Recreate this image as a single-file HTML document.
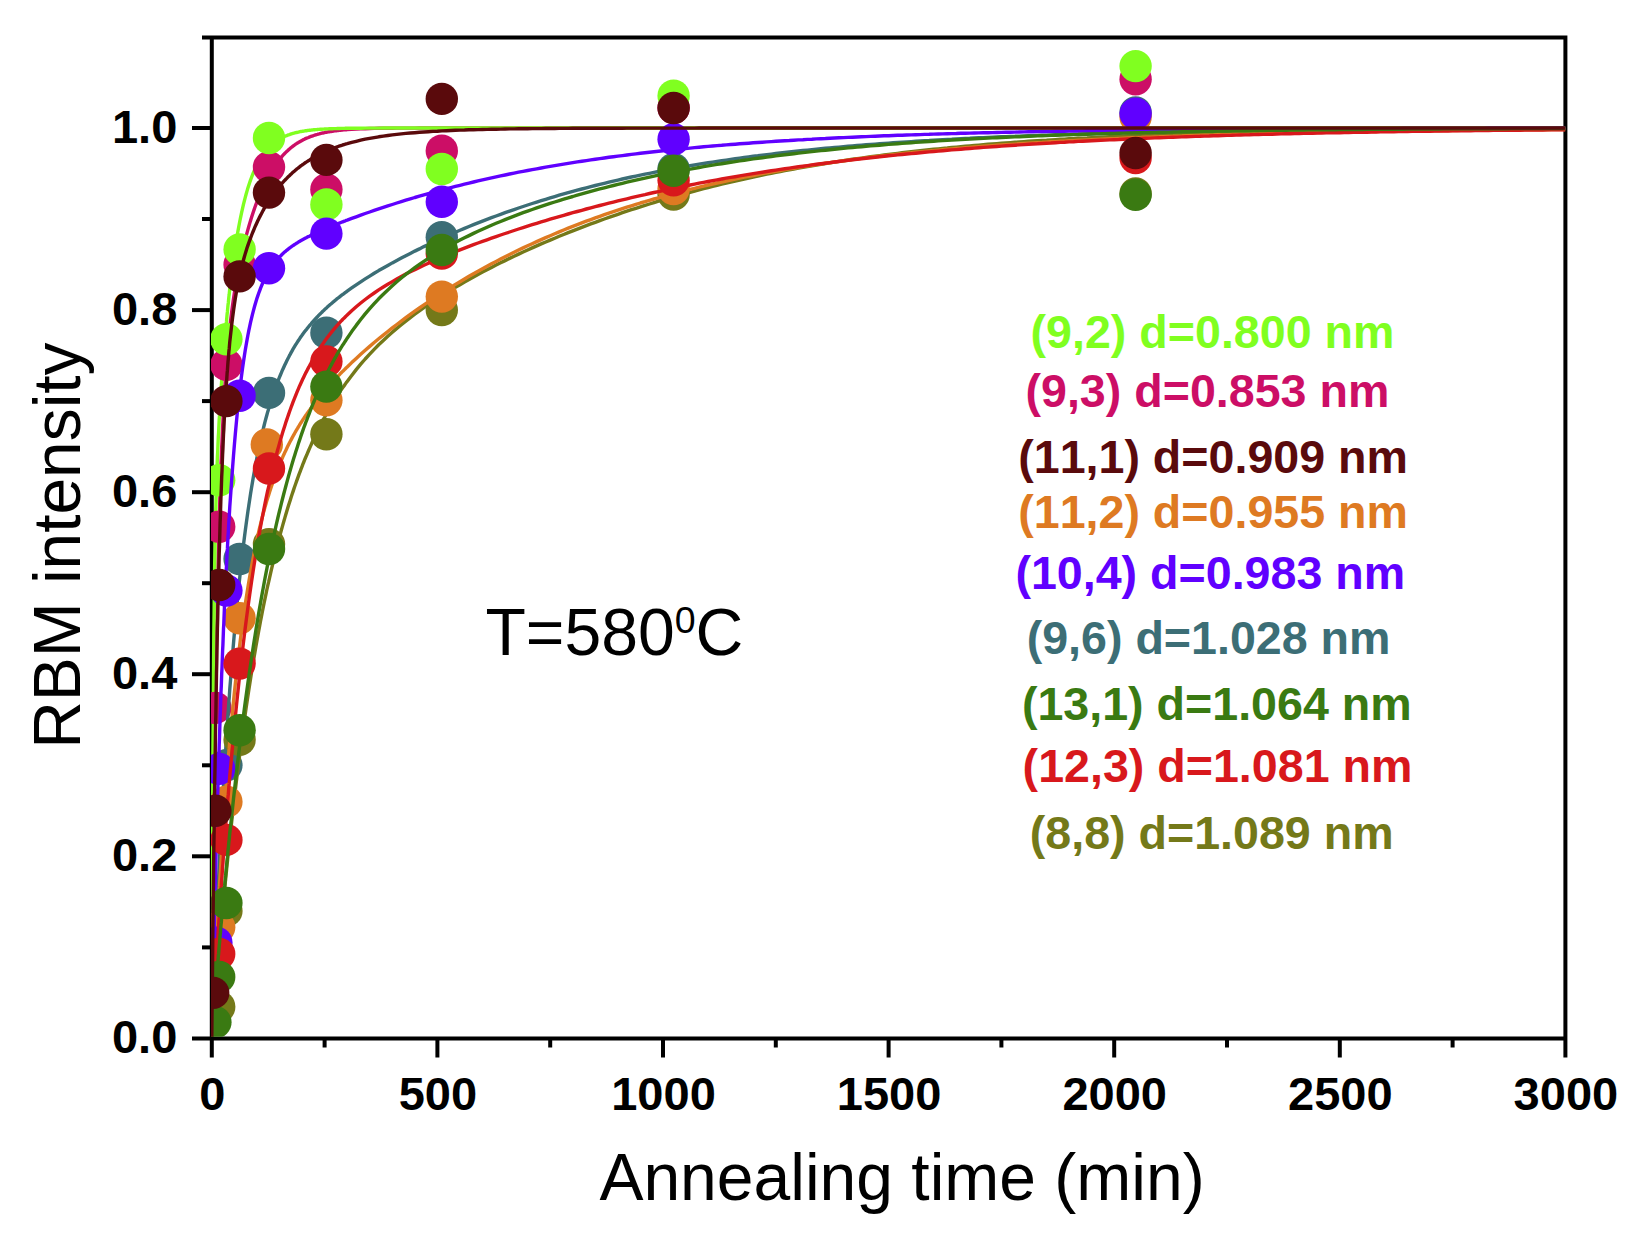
<!DOCTYPE html>
<html lang="en"><head><meta charset="utf-8"><title>RBM intensity vs annealing time</title>
<style>html,body{margin:0;padding:0;background:#fff}svg{display:block}text{font-kerning:none}</style></head>
<body>
<svg width="1652" height="1244" viewBox="0 0 1652 1244">
<defs><clipPath id="c"><rect x="211" y="37.6" width="1354.4" height="999.2"/></clipPath></defs>
<rect width="1652" height="1244" fill="#fff"/>
<g stroke="#000" stroke-width="4.0" fill="none">
<path d="M202.0 37.6 H1565.4 V1057.5"/>
<path d="M211.8 37.6 V1057.5"/>
<path d="M192.0 1038.4 H1565.4"/>
<path d="M192 856.3 H211.8"/>
<path d="M192 674.2 H211.8"/>
<path d="M192 492.2 H211.8"/>
<path d="M192 310.1 H211.8"/>
<path d="M192 128.0 H211.8"/>
<path d="M202 947.4 H211.8"/>
<path d="M202 765.3 H211.8"/>
<path d="M202 583.2 H211.8"/>
<path d="M202 401.1 H211.8"/>
<path d="M202 219.0 H211.8"/>
<path d="M437.4 1038.4 V1057.5"/>
<path d="M663.0 1038.4 V1057.5"/>
<path d="M888.6 1038.4 V1057.5"/>
<path d="M1114.2 1038.4 V1057.5"/>
<path d="M1339.8 1038.4 V1057.5"/>
<path d="M324.6 1038.4 V1047.5"/>
<path d="M550.2 1038.4 V1047.5"/>
<path d="M775.8 1038.4 V1047.5"/>
<path d="M1001.4 1038.4 V1047.5"/>
<path d="M1227.0 1038.4 V1047.5"/>
<path d="M1452.6 1038.4 V1047.5"/>
</g>
<g clip-path="url(#c)">
<path d="M211.8 1038.4 L212.0 1011.2 L212.3 984.9 L212.5 959.5 L212.7 935.2 L212.9 911.8 L213.2 889.3 L213.4 867.6 L213.6 846.8 L213.8 826.8 L214.1 807.5 L214.3 789.0 L214.5 771.3 L214.7 754.1 L215.0 737.7 L215.2 721.9 L215.4 706.6 L215.6 692.0 L215.9 677.9 L216.1 664.3 L216.3 651.3 L216.5 638.7 L216.8 626.6 L217.0 614.9 L217.2 603.7 L217.4 592.9 L217.7 582.5 L217.9 572.5 L218.1 562.8 L218.3 553.5 L218.6 544.5 L218.8 535.8 L219.0 527.5 L219.2 519.4 L219.5 511.6 L219.7 504.1 L219.9 496.9 L220.1 489.9 L220.4 483.1 L220.6 476.6 L220.8 470.3 L221.0 464.2 L221.3 458.3 L221.5 452.6 L221.7 447.1 L222.0 441.8 L222.2 436.6 L222.4 431.6 L222.6 426.8 L222.9 422.1 L223.1 417.5 L223.3 413.1 L223.5 408.9 L223.8 404.7 L224.0 400.7 L224.2 396.8 L224.4 393.0 L224.7 389.4 L224.9 385.8 L225.1 382.3 L225.3 378.9 L225.6 375.7 L225.8 372.5 L226.0 369.4 L226.2 366.3 L226.5 363.4 L226.7 360.5 L226.9 357.7 L227.1 355.0 L227.4 352.4 L227.6 349.8 L227.8 347.2 L228.0 344.8 L228.3 342.3 L228.5 340.0 L228.7 337.7 L228.9 335.4 L229.2 333.2 L229.4 331.1 L229.6 329.0 L229.8 326.9 L230.8 319.0 L231.7 311.8 L232.6 305.0 L233.5 298.7 L234.4 292.7 L235.3 287.1 L236.2 281.8 L237.1 276.8 L238.0 272.0 L238.9 267.4 L239.8 263.0 L240.7 258.7 L241.6 254.6 L242.5 250.7 L243.4 246.9 L244.3 243.2 L245.2 239.7 L246.1 236.2 L247.0 232.9 L247.9 229.6 L248.8 226.5 L249.7 223.4 L250.6 220.4 L251.5 217.6 L252.4 214.7 L253.3 212.0 L254.2 209.4 L255.1 206.8 L256.0 204.3 L256.9 201.8 L257.8 199.5 L258.7 197.2 L259.6 194.9 L260.5 192.8 L261.4 190.7 L262.3 188.6 L263.2 186.6 L264.1 184.7 L265.0 182.8 L265.9 181.0 L266.8 179.2 L267.7 177.5 L268.7 175.9 L269.6 174.2 L270.5 172.7 L271.4 171.2 L272.3 169.7 L273.2 168.3 L274.1 166.9 L275.0 165.5 L275.9 164.2 L276.8 163.0 L277.7 161.8 L278.6 160.6 L279.5 159.4 L280.4 158.3 L281.3 157.3 L282.2 156.2 L283.1 155.2 L284.0 154.2 L284.9 153.3 L285.8 152.4 L286.7 151.5 L287.6 150.7 L288.5 149.8 L289.4 149.1 L290.3 148.3 L291.2 147.5 L292.1 146.8 L293.0 146.1 L293.9 145.5 L294.8 144.8 L295.7 144.2 L296.6 143.6 L297.5 143.0 L298.4 142.5 L299.3 141.9 L300.2 141.4 L301.1 140.9 L302.0 140.4 L302.9 139.9 L303.8 139.5 L304.7 139.1 L305.6 138.6 L306.6 138.2 L307.5 137.8 L308.4 137.5 L309.3 137.1 L310.2 136.7 L311.1 136.4 L312.0 136.1 L312.9 135.8 L313.8 135.5 L314.7 135.2 L315.6 134.9 L316.5 134.6 L317.4 134.4 L318.3 134.1 L319.2 133.9 L320.1 133.6 L321.0 133.4 L321.9 133.2 L322.8 133.0 L323.7 132.8 L324.6 132.6 L325.5 132.4 L326.4 132.2 L327.3 132.1 L328.2 131.9 L329.1 131.8 L330.0 131.6 L330.9 131.5 L331.8 131.3 L332.7 131.2 L333.6 131.1 L334.5 130.9 L335.4 130.8 L336.3 130.7 L337.2 130.6 L338.1 130.5 L339.0 130.4 L339.9 130.3 L340.8 130.2 L341.7 130.1 L342.6 130.0 L343.6 129.9 L344.5 129.8 L345.4 129.8 L346.3 129.7 L347.2 129.6 L351.7 129.3 L356.2 129.1 L360.7 128.8 L365.2 128.7 L369.7 128.5 L374.2 128.4 L378.7 128.3 L383.3 128.3 L387.8 128.2 L392.3 128.2 L396.8 128.1 L401.3 128.1 L405.8 128.1 L410.3 128.1 L414.8 128.1 L419.4 128.0 L423.9 128.0 L428.4 128.0 L432.9 128.0 L437.4 128.0 L441.9 128.0 L446.4 128.0 L450.9 128.0 L455.4 128.0 L460.0 128.0 L464.5 128.0 L469.0 128.0 L473.5 128.0 L478.0 128.0 L482.5 128.0 L487.0 128.0 L491.5 128.0 L496.1 128.0 L500.6 128.0 L505.1 128.0 L509.6 128.0 L514.1 128.0 L518.6 128.0 L523.1 128.0 L527.6 128.0 L532.2 128.0 L536.7 128.0 L541.2 128.0 L545.7 128.0 L550.2 128.0 L554.7 128.0 L559.2 128.0 L563.7 128.0 L568.2 128.0 L572.8 128.0 L577.3 128.0 L581.8 128.0 L586.3 128.0 L590.8 128.0 L595.3 128.0 L599.8 128.0 L604.3 128.0 L608.9 128.0 L613.4 128.0 L617.9 128.0 L622.4 128.0 L626.9 128.0 L631.4 128.0 L635.9 128.0 L640.4 128.0 L645.0 128.0 L649.5 128.0 L654.0 128.0 L658.5 128.0 L663.0 128.0 L667.5 128.0 L672.0 128.0 L676.5 128.0 L681.0 128.0 L685.6 128.0 L690.1 128.0 L694.6 128.0 L699.1 128.0 L703.6 128.0 L708.1 128.0 L712.6 128.0 L717.1 128.0 L721.7 128.0 L726.2 128.0 L730.7 128.0 L735.2 128.0 L739.7 128.0 L744.2 128.0 L748.7 128.0 L753.2 128.0 L757.8 128.0 L762.3 128.0 L766.8 128.0 L771.3 128.0 L775.8 128.0 L780.3 128.0 L784.8 128.0 L789.3 128.0 L793.8 128.0 L798.4 128.0 L802.9 128.0 L807.4 128.0 L811.9 128.0 L816.4 128.0 L820.9 128.0 L825.4 128.0 L829.9 128.0 L834.5 128.0 L839.0 128.0 L843.5 128.0 L848.0 128.0 L852.5 128.0 L857.0 128.0 L861.5 128.0 L866.0 128.0 L870.6 128.0 L875.1 128.0 L879.6 128.0 L884.1 128.0 L888.6 128.0 L893.1 128.0 L897.6 128.0 L902.1 128.0 L906.6 128.0 L911.2 128.0 L915.7 128.0 L920.2 128.0 L924.7 128.0 L929.2 128.0 L933.7 128.0 L938.2 128.0 L942.7 128.0 L947.3 128.0 L951.8 128.0 L956.3 128.0 L960.8 128.0 L965.3 128.0 L969.8 128.0 L974.3 128.0 L978.8 128.0 L983.4 128.0 L987.9 128.0 L992.4 128.0 L996.9 128.0 L1001.4 128.0 L1005.9 128.0 L1010.4 128.0 L1014.9 128.0 L1019.4 128.0 L1024.0 128.0 L1028.5 128.0 L1033.0 128.0 L1037.5 128.0 L1042.0 128.0 L1046.5 128.0 L1051.0 128.0 L1055.5 128.0 L1060.1 128.0 L1064.6 128.0 L1069.1 128.0 L1073.6 128.0 L1078.1 128.0 L1082.6 128.0 L1087.1 128.0 L1091.6 128.0 L1096.2 128.0 L1100.7 128.0 L1105.2 128.0 L1109.7 128.0 L1114.2 128.0 L1118.7 128.0 L1123.2 128.0 L1127.7 128.0 L1132.2 128.0 L1136.8 128.0 L1141.3 128.0 L1145.8 128.0 L1150.3 128.0 L1154.8 128.0 L1159.3 128.0 L1163.8 128.0 L1168.3 128.0 L1172.9 128.0 L1177.4 128.0 L1181.9 128.0 L1186.4 128.0 L1190.9 128.0 L1195.4 128.0 L1199.9 128.0 L1204.4 128.0 L1209.0 128.0 L1213.5 128.0 L1218.0 128.0 L1222.5 128.0 L1227.0 128.0 L1231.5 128.0 L1236.0 128.0 L1240.5 128.0 L1245.0 128.0 L1249.6 128.0 L1254.1 128.0 L1258.6 128.0 L1263.1 128.0 L1267.6 128.0 L1272.1 128.0 L1276.6 128.0 L1281.1 128.0 L1285.7 128.0 L1290.2 128.0 L1294.7 128.0 L1299.2 128.0 L1303.7 128.0 L1308.2 128.0 L1312.7 128.0 L1317.2 128.0 L1321.8 128.0 L1326.3 128.0 L1330.8 128.0 L1335.3 128.0 L1339.8 128.0 L1344.3 128.0 L1348.8 128.0 L1353.3 128.0 L1357.8 128.0 L1362.4 128.0 L1366.9 128.0 L1371.4 128.0 L1375.9 128.0 L1380.4 128.0 L1384.9 128.0 L1389.4 128.0 L1393.9 128.0 L1398.5 128.0 L1403.0 128.0 L1407.5 128.0 L1412.0 128.0 L1416.5 128.0 L1421.0 128.0 L1425.5 128.0 L1430.0 128.0 L1434.6 128.0 L1439.1 128.0 L1443.6 128.0 L1448.1 128.0 L1452.6 128.0 L1457.1 128.0 L1461.6 128.0 L1466.1 128.0 L1470.6 128.0 L1475.2 128.0 L1479.7 128.0 L1484.2 128.0 L1488.7 128.0 L1493.2 128.0 L1497.7 128.0 L1502.2 128.0 L1506.7 128.0 L1511.3 128.0 L1515.8 128.0 L1520.3 128.0 L1524.8 128.0 L1529.3 128.0 L1533.8 128.0 L1538.3 128.0 L1542.8 128.0 L1547.4 128.0 L1551.9 128.0 L1556.4 128.0 L1560.9 128.0 L1565.4 128.0" fill="none" stroke="#cc0e66" stroke-width="3.4" stroke-linejoin="round"/>
<path d="M211.8 1038.4 L212.0 964.7 L212.3 901.1 L212.5 845.9 L212.7 798.0 L212.9 756.4 L213.2 720.0 L213.4 688.2 L213.6 660.3 L213.8 635.8 L214.1 614.2 L214.3 595.0 L214.5 577.9 L214.7 562.7 L215.0 549.0 L215.2 536.7 L215.4 525.5 L215.6 515.4 L215.9 506.1 L216.1 497.6 L216.3 489.7 L216.5 482.4 L216.8 475.5 L217.0 469.1 L217.2 463.1 L217.4 457.4 L217.7 452.0 L217.9 446.8 L218.1 441.9 L218.3 437.1 L218.6 432.5 L218.8 428.1 L219.0 423.9 L219.2 419.7 L219.5 415.7 L219.7 411.8 L219.9 407.9 L220.1 404.2 L220.4 400.5 L220.6 396.9 L220.8 393.4 L221.0 390.0 L221.3 386.6 L221.5 383.3 L221.7 380.0 L222.0 376.8 L222.2 373.6 L222.4 370.5 L222.6 367.4 L222.9 364.4 L223.1 361.4 L223.3 358.5 L223.5 355.6 L223.8 352.8 L224.0 349.9 L224.2 347.2 L224.4 344.4 L224.7 341.7 L224.9 339.1 L225.1 336.4 L225.3 333.8 L225.6 331.3 L225.8 328.8 L226.0 326.3 L226.2 323.8 L226.5 321.4 L226.7 319.0 L226.9 316.6 L227.1 314.3 L227.4 312.0 L227.6 309.7 L227.8 307.4 L228.0 305.2 L228.3 303.0 L228.5 300.9 L228.7 298.7 L228.9 296.6 L229.2 294.6 L229.4 292.5 L229.6 290.5 L229.8 288.5 L230.8 280.7 L231.7 273.3 L232.6 266.3 L233.5 259.7 L234.4 253.3 L235.3 247.3 L236.2 241.6 L237.1 236.1 L238.0 230.9 L238.9 226.0 L239.8 221.3 L240.7 216.8 L241.6 212.6 L242.5 208.6 L243.4 204.7 L244.3 201.1 L245.2 197.6 L246.1 194.3 L247.0 191.1 L247.9 188.1 L248.8 185.2 L249.7 182.5 L250.6 179.9 L251.5 177.5 L252.4 175.1 L253.3 172.9 L254.2 170.8 L255.1 168.7 L256.0 166.8 L256.9 165.0 L257.8 163.2 L258.7 161.6 L259.6 160.0 L260.5 158.5 L261.4 157.0 L262.3 155.7 L263.2 154.4 L264.1 153.1 L265.0 151.9 L265.9 150.8 L266.8 149.7 L267.7 148.7 L268.7 147.7 L269.6 146.8 L270.5 145.9 L271.4 145.1 L272.3 144.3 L273.2 143.5 L274.1 142.8 L275.0 142.1 L275.9 141.4 L276.8 140.8 L277.7 140.2 L278.6 139.6 L279.5 139.1 L280.4 138.6 L281.3 138.1 L282.2 137.6 L283.1 137.2 L284.0 136.7 L284.9 136.3 L285.8 135.9 L286.7 135.6 L287.6 135.2 L288.5 134.9 L289.4 134.6 L290.3 134.2 L291.2 134.0 L292.1 133.7 L293.0 133.4 L293.9 133.2 L294.8 132.9 L295.7 132.7 L296.6 132.5 L297.5 132.3 L298.4 132.1 L299.3 131.9 L300.2 131.7 L301.1 131.5 L302.0 131.4 L302.9 131.2 L303.8 131.1 L304.7 130.9 L305.6 130.8 L306.6 130.7 L307.5 130.5 L308.4 130.4 L309.3 130.3 L310.2 130.2 L311.1 130.1 L312.0 130.0 L312.9 129.9 L313.8 129.8 L314.7 129.7 L315.6 129.6 L316.5 129.6 L317.4 129.5 L318.3 129.4 L319.2 129.4 L320.1 129.3 L321.0 129.2 L321.9 129.2 L322.8 129.1 L323.7 129.1 L324.6 129.0 L325.5 129.0 L326.4 128.9 L327.3 128.9 L328.2 128.9 L329.1 128.8 L330.0 128.8 L330.9 128.7 L331.8 128.7 L332.7 128.7 L333.6 128.6 L334.5 128.6 L335.4 128.6 L336.3 128.6 L337.2 128.5 L338.1 128.5 L339.0 128.5 L339.9 128.5 L340.8 128.4 L341.7 128.4 L342.6 128.4 L343.6 128.4 L344.5 128.4 L345.4 128.3 L346.3 128.3 L347.2 128.3 L351.7 128.2 L356.2 128.2 L360.7 128.2 L365.2 128.1 L369.7 128.1 L374.2 128.1 L378.7 128.1 L383.3 128.0 L387.8 128.0 L392.3 128.0 L396.8 128.0 L401.3 128.0 L405.8 128.0 L410.3 128.0 L414.8 128.0 L419.4 128.0 L423.9 128.0 L428.4 128.0 L432.9 128.0 L437.4 128.0 L441.9 128.0 L446.4 128.0 L450.9 128.0 L455.4 128.0 L460.0 128.0 L464.5 128.0 L469.0 128.0 L473.5 128.0 L478.0 128.0 L482.5 128.0 L487.0 128.0 L491.5 128.0 L496.1 128.0 L500.6 128.0 L505.1 128.0 L509.6 128.0 L514.1 128.0 L518.6 128.0 L523.1 128.0 L527.6 128.0 L532.2 128.0 L536.7 128.0 L541.2 128.0 L545.7 128.0 L550.2 128.0 L554.7 128.0 L559.2 128.0 L563.7 128.0 L568.2 128.0 L572.8 128.0 L577.3 128.0 L581.8 128.0 L586.3 128.0 L590.8 128.0 L595.3 128.0 L599.8 128.0 L604.3 128.0 L608.9 128.0 L613.4 128.0 L617.9 128.0 L622.4 128.0 L626.9 128.0 L631.4 128.0 L635.9 128.0 L640.4 128.0 L645.0 128.0 L649.5 128.0 L654.0 128.0 L658.5 128.0 L663.0 128.0 L667.5 128.0 L672.0 128.0 L676.5 128.0 L681.0 128.0 L685.6 128.0 L690.1 128.0 L694.6 128.0 L699.1 128.0 L703.6 128.0 L708.1 128.0 L712.6 128.0 L717.1 128.0 L721.7 128.0 L726.2 128.0 L730.7 128.0 L735.2 128.0 L739.7 128.0 L744.2 128.0 L748.7 128.0 L753.2 128.0 L757.8 128.0 L762.3 128.0 L766.8 128.0 L771.3 128.0 L775.8 128.0 L780.3 128.0 L784.8 128.0 L789.3 128.0 L793.8 128.0 L798.4 128.0 L802.9 128.0 L807.4 128.0 L811.9 128.0 L816.4 128.0 L820.9 128.0 L825.4 128.0 L829.9 128.0 L834.5 128.0 L839.0 128.0 L843.5 128.0 L848.0 128.0 L852.5 128.0 L857.0 128.0 L861.5 128.0 L866.0 128.0 L870.6 128.0 L875.1 128.0 L879.6 128.0 L884.1 128.0 L888.6 128.0 L893.1 128.0 L897.6 128.0 L902.1 128.0 L906.6 128.0 L911.2 128.0 L915.7 128.0 L920.2 128.0 L924.7 128.0 L929.2 128.0 L933.7 128.0 L938.2 128.0 L942.7 128.0 L947.3 128.0 L951.8 128.0 L956.3 128.0 L960.8 128.0 L965.3 128.0 L969.8 128.0 L974.3 128.0 L978.8 128.0 L983.4 128.0 L987.9 128.0 L992.4 128.0 L996.9 128.0 L1001.4 128.0 L1005.9 128.0 L1010.4 128.0 L1014.9 128.0 L1019.4 128.0 L1024.0 128.0 L1028.5 128.0 L1033.0 128.0 L1037.5 128.0 L1042.0 128.0 L1046.5 128.0 L1051.0 128.0 L1055.5 128.0 L1060.1 128.0 L1064.6 128.0 L1069.1 128.0 L1073.6 128.0 L1078.1 128.0 L1082.6 128.0 L1087.1 128.0 L1091.6 128.0 L1096.2 128.0 L1100.7 128.0 L1105.2 128.0 L1109.7 128.0 L1114.2 128.0 L1118.7 128.0 L1123.2 128.0 L1127.7 128.0 L1132.2 128.0 L1136.8 128.0 L1141.3 128.0 L1145.8 128.0 L1150.3 128.0 L1154.8 128.0 L1159.3 128.0 L1163.8 128.0 L1168.3 128.0 L1172.9 128.0 L1177.4 128.0 L1181.9 128.0 L1186.4 128.0 L1190.9 128.0 L1195.4 128.0 L1199.9 128.0 L1204.4 128.0 L1209.0 128.0 L1213.5 128.0 L1218.0 128.0 L1222.5 128.0 L1227.0 128.0 L1231.5 128.0 L1236.0 128.0 L1240.5 128.0 L1245.0 128.0 L1249.6 128.0 L1254.1 128.0 L1258.6 128.0 L1263.1 128.0 L1267.6 128.0 L1272.1 128.0 L1276.6 128.0 L1281.1 128.0 L1285.7 128.0 L1290.2 128.0 L1294.7 128.0 L1299.2 128.0 L1303.7 128.0 L1308.2 128.0 L1312.7 128.0 L1317.2 128.0 L1321.8 128.0 L1326.3 128.0 L1330.8 128.0 L1335.3 128.0 L1339.8 128.0 L1344.3 128.0 L1348.8 128.0 L1353.3 128.0 L1357.8 128.0 L1362.4 128.0 L1366.9 128.0 L1371.4 128.0 L1375.9 128.0 L1380.4 128.0 L1384.9 128.0 L1389.4 128.0 L1393.9 128.0 L1398.5 128.0 L1403.0 128.0 L1407.5 128.0 L1412.0 128.0 L1416.5 128.0 L1421.0 128.0 L1425.5 128.0 L1430.0 128.0 L1434.6 128.0 L1439.1 128.0 L1443.6 128.0 L1448.1 128.0 L1452.6 128.0 L1457.1 128.0 L1461.6 128.0 L1466.1 128.0 L1470.6 128.0 L1475.2 128.0 L1479.7 128.0 L1484.2 128.0 L1488.7 128.0 L1493.2 128.0 L1497.7 128.0 L1502.2 128.0 L1506.7 128.0 L1511.3 128.0 L1515.8 128.0 L1520.3 128.0 L1524.8 128.0 L1529.3 128.0 L1533.8 128.0 L1538.3 128.0 L1542.8 128.0 L1547.4 128.0 L1551.9 128.0 L1556.4 128.0 L1560.9 128.0 L1565.4 128.0" fill="none" stroke="#80ff20" stroke-width="3.4" stroke-linejoin="round"/>
<g fill="#cc0e66" stroke="none">
<circle cx="215.4" cy="707.9" r="16.2"/>
<circle cx="219.2" cy="526.8" r="16.2"/>
<circle cx="226.4" cy="364.7" r="16.2"/>
<circle cx="239.6" cy="264.6" r="16.2"/>
<circle cx="269.0" cy="167.1" r="16.2"/>
<circle cx="326.4" cy="189.5" r="16.2"/>
<circle cx="441.8" cy="150.8" r="16.2"/>
<circle cx="673.6" cy="108.0" r="16.2"/>
<circle cx="1135.6" cy="79.3" r="16.2"/>
</g>
<g fill="#80ff20" stroke="none">
<circle cx="219.2" cy="480.3" r="16.2"/>
<circle cx="226.4" cy="339.2" r="16.2"/>
<circle cx="239.6" cy="249.5" r="16.2"/>
<circle cx="269.0" cy="138.0" r="16.2"/>
<circle cx="326.4" cy="204.5" r="16.2"/>
<circle cx="441.8" cy="169.0" r="16.2"/>
<circle cx="673.6" cy="95.7" r="16.2"/>
<circle cx="1135.6" cy="66.1" r="16.2"/>
</g>
<path d="M211.8 1038.4 L212.0 1032.4 L212.3 1026.5 L212.5 1020.6 L212.7 1014.7 L212.9 1008.9 L213.2 1003.1 L213.4 997.4 L213.6 991.8 L213.8 986.1 L214.1 980.6 L214.3 975.1 L214.5 969.6 L214.7 964.2 L215.0 958.8 L215.2 953.4 L215.4 948.2 L215.6 942.9 L215.9 937.7 L216.1 932.6 L216.3 927.4 L216.5 922.4 L216.8 917.4 L217.0 912.4 L217.2 907.4 L217.4 902.5 L217.7 897.7 L217.9 892.9 L218.1 888.1 L218.3 883.4 L218.6 878.7 L218.8 874.0 L219.0 869.4 L219.2 864.9 L219.5 860.3 L219.7 855.8 L219.9 851.4 L220.1 847.0 L220.4 842.6 L220.6 838.2 L220.8 833.9 L221.0 829.7 L221.3 825.5 L221.5 821.3 L221.7 817.1 L222.0 813.0 L222.2 808.9 L222.4 804.8 L222.6 800.8 L222.9 796.8 L223.1 792.9 L223.3 789.0 L223.5 785.1 L223.8 781.3 L224.0 777.4 L224.2 773.7 L224.4 769.9 L224.7 766.2 L224.9 762.5 L225.1 758.9 L225.3 755.2 L225.6 751.6 L225.8 748.1 L226.0 744.5 L226.2 741.0 L226.5 737.6 L226.7 734.1 L226.9 730.7 L227.1 727.3 L227.4 724.0 L227.6 720.7 L227.8 717.4 L228.0 714.1 L228.3 710.8 L228.5 707.6 L228.7 704.4 L228.9 701.3 L229.2 698.1 L229.4 695.0 L229.6 692.0 L229.8 688.9 L230.8 676.9 L231.7 665.4 L232.6 654.2 L233.5 643.4 L234.4 632.9 L235.3 622.8 L236.2 613.1 L237.1 603.6 L238.0 594.5 L238.9 585.6 L239.8 577.1 L240.7 568.8 L241.6 560.8 L242.5 553.1 L243.4 545.6 L244.3 538.3 L245.2 531.3 L246.1 524.5 L247.0 517.9 L247.9 511.6 L248.8 505.4 L249.7 499.4 L250.6 493.6 L251.5 488.0 L252.4 482.6 L253.3 477.3 L254.2 472.2 L255.1 467.3 L256.0 462.5 L256.9 457.9 L257.8 453.4 L258.7 449.0 L259.6 444.8 L260.5 440.7 L261.4 436.7 L262.3 432.8 L263.2 429.1 L264.1 425.5 L265.0 421.9 L265.9 418.5 L266.8 415.2 L267.7 411.9 L268.7 408.8 L269.6 405.7 L270.5 402.8 L271.4 399.9 L272.3 397.1 L273.2 394.3 L274.1 391.7 L275.0 389.1 L275.9 386.6 L276.8 384.1 L277.7 381.8 L278.6 379.4 L279.5 377.2 L280.4 375.0 L281.3 372.8 L282.2 370.7 L283.1 368.7 L284.0 366.7 L284.9 364.8 L285.8 362.9 L286.7 361.0 L287.6 359.2 L288.5 357.5 L289.4 355.7 L290.3 354.1 L291.2 352.4 L292.1 350.8 L293.0 349.2 L293.9 347.7 L294.8 346.2 L295.7 344.7 L296.6 343.3 L297.5 341.9 L298.4 340.5 L299.3 339.2 L300.2 337.8 L301.1 336.5 L302.0 335.3 L302.9 334.0 L303.8 332.8 L304.7 331.6 L305.6 330.4 L306.6 329.3 L307.5 328.1 L308.4 327.0 L309.3 325.9 L310.2 324.8 L311.1 323.8 L312.0 322.7 L312.9 321.7 L313.8 320.7 L314.7 319.7 L315.6 318.7 L316.5 317.7 L317.4 316.8 L318.3 315.8 L319.2 314.9 L320.1 314.0 L321.0 313.1 L321.9 312.2 L322.8 311.3 L323.7 310.5 L324.6 309.6 L325.5 308.8 L326.4 308.0 L327.3 307.1 L328.2 306.3 L329.1 305.5 L330.0 304.7 L330.9 304.0 L331.8 303.2 L332.7 302.4 L333.6 301.7 L334.5 300.9 L335.4 300.2 L336.3 299.4 L337.2 298.7 L338.1 298.0 L339.0 297.3 L339.9 296.6 L340.8 295.9 L341.7 295.2 L342.6 294.5 L343.6 293.8 L344.5 293.1 L345.4 292.5 L346.3 291.8 L347.2 291.1 L351.7 287.9 L356.2 284.8 L360.7 281.8 L365.2 278.9 L369.7 276.1 L374.2 273.3 L378.7 270.6 L383.3 268.0 L387.8 265.5 L392.3 262.9 L396.8 260.5 L401.3 258.1 L405.8 255.7 L410.3 253.4 L414.8 251.1 L419.4 248.9 L423.9 246.6 L428.4 244.5 L432.9 242.4 L437.4 240.3 L441.9 238.2 L446.4 236.2 L450.9 234.2 L455.4 232.2 L460.0 230.3 L464.5 228.4 L469.0 226.5 L473.5 224.7 L478.0 222.9 L482.5 221.1 L487.0 219.4 L491.5 217.7 L496.1 216.0 L500.6 214.4 L505.1 212.7 L509.6 211.1 L514.1 209.6 L518.6 208.0 L523.1 206.5 L527.6 205.0 L532.2 203.5 L536.7 202.1 L541.2 200.7 L545.7 199.3 L550.2 197.9 L554.7 196.6 L559.2 195.2 L563.7 193.9 L568.2 192.7 L572.8 191.4 L577.3 190.2 L581.8 189.0 L586.3 187.8 L590.8 186.6 L595.3 185.5 L599.8 184.4 L604.3 183.3 L608.9 182.2 L613.4 181.1 L617.9 180.1 L622.4 179.0 L626.9 178.0 L631.4 177.0 L635.9 176.1 L640.4 175.1 L645.0 174.2 L649.5 173.3 L654.0 172.4 L658.5 171.5 L663.0 170.6 L667.5 169.8 L672.0 168.9 L676.5 168.1 L681.0 167.3 L685.6 166.5 L690.1 165.7 L694.6 165.0 L699.1 164.2 L703.6 163.5 L708.1 162.8 L712.6 162.1 L717.1 161.4 L721.7 160.7 L726.2 160.1 L730.7 159.4 L735.2 158.8 L739.7 158.1 L744.2 157.5 L748.7 156.9 L753.2 156.3 L757.8 155.8 L762.3 155.2 L766.8 154.6 L771.3 154.1 L775.8 153.5 L780.3 153.0 L784.8 152.5 L789.3 152.0 L793.8 151.5 L798.4 151.0 L802.9 150.5 L807.4 150.1 L811.9 149.6 L816.4 149.2 L820.9 148.7 L825.4 148.3 L829.9 147.9 L834.5 147.5 L839.0 147.1 L843.5 146.7 L848.0 146.3 L852.5 145.9 L857.0 145.5 L861.5 145.1 L866.0 144.8 L870.6 144.4 L875.1 144.1 L879.6 143.8 L884.1 143.4 L888.6 143.1 L893.1 142.8 L897.6 142.5 L902.1 142.2 L906.6 141.9 L911.2 141.6 L915.7 141.3 L920.2 141.0 L924.7 140.7 L929.2 140.5 L933.7 140.2 L938.2 139.9 L942.7 139.7 L947.3 139.4 L951.8 139.2 L956.3 138.9 L960.8 138.7 L965.3 138.5 L969.8 138.3 L974.3 138.0 L978.8 137.8 L983.4 137.6 L987.9 137.4 L992.4 137.2 L996.9 137.0 L1001.4 136.8 L1005.9 136.6 L1010.4 136.4 L1014.9 136.3 L1019.4 136.1 L1024.0 135.9 L1028.5 135.7 L1033.0 135.6 L1037.5 135.4 L1042.0 135.2 L1046.5 135.1 L1051.0 134.9 L1055.5 134.8 L1060.1 134.6 L1064.6 134.5 L1069.1 134.4 L1073.6 134.2 L1078.1 134.1 L1082.6 133.9 L1087.1 133.8 L1091.6 133.7 L1096.2 133.6 L1100.7 133.4 L1105.2 133.3 L1109.7 133.2 L1114.2 133.1 L1118.7 133.0 L1123.2 132.9 L1127.7 132.8 L1132.2 132.7 L1136.8 132.6 L1141.3 132.5 L1145.8 132.4 L1150.3 132.3 L1154.8 132.2 L1159.3 132.1 L1163.8 132.0 L1168.3 131.9 L1172.9 131.8 L1177.4 131.7 L1181.9 131.7 L1186.4 131.6 L1190.9 131.5 L1195.4 131.4 L1199.9 131.3 L1204.4 131.3 L1209.0 131.2 L1213.5 131.1 L1218.0 131.1 L1222.5 131.0 L1227.0 130.9 L1231.5 130.9 L1236.0 130.8 L1240.5 130.7 L1245.0 130.7 L1249.6 130.6 L1254.1 130.6 L1258.6 130.5 L1263.1 130.4 L1267.6 130.4 L1272.1 130.3 L1276.6 130.3 L1281.1 130.2 L1285.7 130.2 L1290.2 130.1 L1294.7 130.1 L1299.2 130.0 L1303.7 130.0 L1308.2 129.9 L1312.7 129.9 L1317.2 129.9 L1321.8 129.8 L1326.3 129.8 L1330.8 129.7 L1335.3 129.7 L1339.8 129.7 L1344.3 129.6 L1348.8 129.6 L1353.3 129.5 L1357.8 129.5 L1362.4 129.5 L1366.9 129.4 L1371.4 129.4 L1375.9 129.4 L1380.4 129.3 L1384.9 129.3 L1389.4 129.3 L1393.9 129.3 L1398.5 129.2 L1403.0 129.2 L1407.5 129.2 L1412.0 129.1 L1416.5 129.1 L1421.0 129.1 L1425.5 129.1 L1430.0 129.0 L1434.6 129.0 L1439.1 129.0 L1443.6 129.0 L1448.1 129.0 L1452.6 128.9 L1457.1 128.9 L1461.6 128.9 L1466.1 128.9 L1470.6 128.9 L1475.2 128.8 L1479.7 128.8 L1484.2 128.8 L1488.7 128.8 L1493.2 128.8 L1497.7 128.7 L1502.2 128.7 L1506.7 128.7 L1511.3 128.7 L1515.8 128.7 L1520.3 128.7 L1524.8 128.6 L1529.3 128.6 L1533.8 128.6 L1538.3 128.6 L1542.8 128.6 L1547.4 128.6 L1551.9 128.6 L1556.4 128.5 L1560.9 128.5 L1565.4 128.5" fill="none" stroke="#3c6e76" stroke-width="3.4" stroke-linejoin="round"/>
<g fill="#3c6e76" stroke="none">
<circle cx="219.2" cy="921.0" r="16.2"/>
<circle cx="226.4" cy="765.3" r="16.2"/>
<circle cx="239.6" cy="559.0" r="16.2"/>
<circle cx="269.0" cy="392.9" r="16.2"/>
<circle cx="326.4" cy="332.8" r="16.2"/>
<circle cx="441.8" cy="237.2" r="16.2"/>
<circle cx="673.6" cy="169.0" r="16.2"/>
<circle cx="1135.6" cy="112.5" r="16.2"/>
</g>
<path d="M211.8 1038.4 L212.0 1035.5 L212.3 1032.5 L212.5 1029.6 L212.7 1026.7 L212.9 1023.8 L213.2 1020.9 L213.4 1018.1 L213.6 1015.2 L213.8 1012.4 L214.1 1009.5 L214.3 1006.7 L214.5 1003.9 L214.7 1001.1 L215.0 998.3 L215.2 995.5 L215.4 992.8 L215.6 990.0 L215.9 987.3 L216.1 984.5 L216.3 981.8 L216.5 979.1 L216.8 976.4 L217.0 973.7 L217.2 971.0 L217.4 968.4 L217.7 965.7 L217.9 963.1 L218.1 960.4 L218.3 957.8 L218.6 955.2 L218.8 952.6 L219.0 950.0 L219.2 947.5 L219.5 944.9 L219.7 942.3 L219.9 939.8 L220.1 937.3 L220.4 934.8 L220.6 932.2 L220.8 929.7 L221.0 927.3 L221.3 924.8 L221.5 922.3 L221.7 919.9 L222.0 917.4 L222.2 915.0 L222.4 912.6 L222.6 910.1 L222.9 907.7 L223.1 905.3 L223.3 903.0 L223.5 900.6 L223.8 898.2 L224.0 895.9 L224.2 893.5 L224.4 891.2 L224.7 888.9 L224.9 886.6 L225.1 884.3 L225.3 882.0 L225.6 879.7 L225.8 877.4 L226.0 875.2 L226.2 872.9 L226.5 870.7 L226.7 868.4 L226.9 866.2 L227.1 864.0 L227.4 861.8 L227.6 859.6 L227.8 857.4 L228.0 855.2 L228.3 853.1 L228.5 850.9 L228.7 848.7 L228.9 846.6 L229.2 844.5 L229.4 842.4 L229.6 840.2 L229.8 838.1 L230.8 829.8 L231.7 821.6 L232.6 813.6 L233.5 805.7 L234.4 797.9 L235.3 790.3 L236.2 782.8 L237.1 775.4 L238.0 768.1 L238.9 761.0 L239.8 754.0 L240.7 747.1 L241.6 740.3 L242.5 733.6 L243.4 727.1 L244.3 720.6 L245.2 714.3 L246.1 708.1 L247.0 701.9 L247.9 695.9 L248.8 690.0 L249.7 684.2 L250.6 678.4 L251.5 672.8 L252.4 667.3 L253.3 661.8 L254.2 656.5 L255.1 651.2 L256.0 646.0 L256.9 640.9 L257.8 635.9 L258.7 631.0 L259.6 626.1 L260.5 621.3 L261.4 616.6 L262.3 612.0 L263.2 607.5 L264.1 603.0 L265.0 598.6 L265.9 594.3 L266.8 590.0 L267.7 585.8 L268.7 581.7 L269.6 577.6 L270.5 573.6 L271.4 569.7 L272.3 565.8 L273.2 562.0 L274.1 558.3 L275.0 554.6 L275.9 551.0 L276.8 547.4 L277.7 543.9 L278.6 540.4 L279.5 537.0 L280.4 533.6 L281.3 530.3 L282.2 527.1 L283.1 523.9 L284.0 520.7 L284.9 517.6 L285.8 514.5 L286.7 511.5 L287.6 508.5 L288.5 505.6 L289.4 502.7 L290.3 499.9 L291.2 497.1 L292.1 494.3 L293.0 491.6 L293.9 488.9 L294.8 486.3 L295.7 483.7 L296.6 481.2 L297.5 478.6 L298.4 476.1 L299.3 473.7 L300.2 471.3 L301.1 468.9 L302.0 466.6 L302.9 464.2 L303.8 462.0 L304.7 459.7 L305.6 457.5 L306.6 455.3 L307.5 453.1 L308.4 451.0 L309.3 448.9 L310.2 446.9 L311.1 444.8 L312.0 442.8 L312.9 440.8 L313.8 438.9 L314.7 436.9 L315.6 435.0 L316.5 433.1 L317.4 431.3 L318.3 429.5 L319.2 427.6 L320.1 425.9 L321.0 424.1 L321.9 422.4 L322.8 420.6 L323.7 418.9 L324.6 417.3 L325.5 415.6 L326.4 414.0 L327.3 412.4 L328.2 410.8 L329.1 409.2 L330.0 407.7 L330.9 406.1 L331.8 404.6 L332.7 403.1 L333.6 401.6 L334.5 400.2 L335.4 398.7 L336.3 397.3 L337.2 395.9 L338.1 394.5 L339.0 393.1 L339.9 391.8 L340.8 390.4 L341.7 389.1 L342.6 387.8 L343.6 386.5 L344.5 385.2 L345.4 383.9 L346.3 382.6 L347.2 381.4 L351.7 375.4 L356.2 369.6 L360.7 364.2 L365.2 359.0 L369.7 354.1 L374.2 349.4 L378.7 344.8 L383.3 340.5 L387.8 336.3 L392.3 332.3 L396.8 328.4 L401.3 324.7 L405.8 321.1 L410.3 317.6 L414.8 314.2 L419.4 310.9 L423.9 307.7 L428.4 304.6 L432.9 301.5 L437.4 298.6 L441.9 295.7 L446.4 292.8 L450.9 290.1 L455.4 287.3 L460.0 284.7 L464.5 282.1 L469.0 279.5 L473.5 277.0 L478.0 274.5 L482.5 272.1 L487.0 269.7 L491.5 267.4 L496.1 265.1 L500.6 262.8 L505.1 260.6 L509.6 258.4 L514.1 256.3 L518.6 254.1 L523.1 252.0 L527.6 250.0 L532.2 247.9 L536.7 245.9 L541.2 243.9 L545.7 242.0 L550.2 240.1 L554.7 238.2 L559.2 236.3 L563.7 234.5 L568.2 232.6 L572.8 230.8 L577.3 229.1 L581.8 227.3 L586.3 225.6 L590.8 223.9 L595.3 222.3 L599.8 220.6 L604.3 219.0 L608.9 217.4 L613.4 215.8 L617.9 214.3 L622.4 212.7 L626.9 211.2 L631.4 209.7 L635.9 208.3 L640.4 206.8 L645.0 205.4 L649.5 204.0 L654.0 202.6 L658.5 201.2 L663.0 199.9 L667.5 198.6 L672.0 197.3 L676.5 196.0 L681.0 194.7 L685.6 193.5 L690.1 192.3 L694.6 191.1 L699.1 189.9 L703.6 188.7 L708.1 187.6 L712.6 186.4 L717.1 185.3 L721.7 184.2 L726.2 183.1 L730.7 182.1 L735.2 181.0 L739.7 180.0 L744.2 179.0 L748.7 178.0 L753.2 177.0 L757.8 176.1 L762.3 175.1 L766.8 174.2 L771.3 173.3 L775.8 172.4 L780.3 171.5 L784.8 170.7 L789.3 169.8 L793.8 169.0 L798.4 168.2 L802.9 167.3 L807.4 166.6 L811.9 165.8 L816.4 165.0 L820.9 164.3 L825.4 163.5 L829.9 162.8 L834.5 162.1 L839.0 161.4 L843.5 160.7 L848.0 160.0 L852.5 159.3 L857.0 158.7 L861.5 158.1 L866.0 157.4 L870.6 156.8 L875.1 156.2 L879.6 155.6 L884.1 155.0 L888.6 154.5 L893.1 153.9 L897.6 153.4 L902.1 152.8 L906.6 152.3 L911.2 151.8 L915.7 151.3 L920.2 150.8 L924.7 150.3 L929.2 149.8 L933.7 149.3 L938.2 148.9 L942.7 148.4 L947.3 148.0 L951.8 147.5 L956.3 147.1 L960.8 146.7 L965.3 146.3 L969.8 145.9 L974.3 145.5 L978.8 145.1 L983.4 144.7 L987.9 144.3 L992.4 144.0 L996.9 143.6 L1001.4 143.3 L1005.9 142.9 L1010.4 142.6 L1014.9 142.3 L1019.4 142.0 L1024.0 141.6 L1028.5 141.3 L1033.0 141.0 L1037.5 140.7 L1042.0 140.4 L1046.5 140.2 L1051.0 139.9 L1055.5 139.6 L1060.1 139.3 L1064.6 139.1 L1069.1 138.8 L1073.6 138.6 L1078.1 138.3 L1082.6 138.1 L1087.1 137.9 L1091.6 137.6 L1096.2 137.4 L1100.7 137.2 L1105.2 137.0 L1109.7 136.8 L1114.2 136.6 L1118.7 136.4 L1123.2 136.2 L1127.7 136.0 L1132.2 135.8 L1136.8 135.6 L1141.3 135.4 L1145.8 135.2 L1150.3 135.1 L1154.8 134.9 L1159.3 134.7 L1163.8 134.6 L1168.3 134.4 L1172.9 134.3 L1177.4 134.1 L1181.9 134.0 L1186.4 133.8 L1190.9 133.7 L1195.4 133.6 L1199.9 133.4 L1204.4 133.3 L1209.0 133.2 L1213.5 133.0 L1218.0 132.9 L1222.5 132.8 L1227.0 132.7 L1231.5 132.6 L1236.0 132.4 L1240.5 132.3 L1245.0 132.2 L1249.6 132.1 L1254.1 132.0 L1258.6 131.9 L1263.1 131.8 L1267.6 131.7 L1272.1 131.6 L1276.6 131.6 L1281.1 131.5 L1285.7 131.4 L1290.2 131.3 L1294.7 131.2 L1299.2 131.1 L1303.7 131.1 L1308.2 131.0 L1312.7 130.9 L1317.2 130.8 L1321.8 130.8 L1326.3 130.7 L1330.8 130.6 L1335.3 130.6 L1339.8 130.5 L1344.3 130.4 L1348.8 130.4 L1353.3 130.3 L1357.8 130.2 L1362.4 130.2 L1366.9 130.1 L1371.4 130.1 L1375.9 130.0 L1380.4 130.0 L1384.9 129.9 L1389.4 129.9 L1393.9 129.8 L1398.5 129.8 L1403.0 129.7 L1407.5 129.7 L1412.0 129.6 L1416.5 129.6 L1421.0 129.6 L1425.5 129.5 L1430.0 129.5 L1434.6 129.4 L1439.1 129.4 L1443.6 129.4 L1448.1 129.3 L1452.6 129.3 L1457.1 129.3 L1461.6 129.2 L1466.1 129.2 L1470.6 129.2 L1475.2 129.1 L1479.7 129.1 L1484.2 129.1 L1488.7 129.0 L1493.2 129.0 L1497.7 129.0 L1502.2 129.0 L1506.7 128.9 L1511.3 128.9 L1515.8 128.9 L1520.3 128.9 L1524.8 128.8 L1529.3 128.8 L1533.8 128.8 L1538.3 128.8 L1542.8 128.8 L1547.4 128.7 L1551.9 128.7 L1556.4 128.7 L1560.9 128.7 L1565.4 128.7" fill="none" stroke="#747919" stroke-width="3.4" stroke-linejoin="round"/>
<g fill="#747919" stroke="none">
<circle cx="219.2" cy="1006.8" r="16.2"/>
<circle cx="226.4" cy="910.9" r="16.2"/>
<circle cx="239.6" cy="739.8" r="16.2"/>
<circle cx="269.0" cy="544.1" r="16.2"/>
<circle cx="326.4" cy="434.2" r="16.2"/>
<circle cx="441.8" cy="310.1" r="16.2"/>
<circle cx="673.6" cy="194.5" r="16.2"/>
<circle cx="1135.6" cy="193.5" r="16.2"/>
</g>
<path d="M211.8 1038.4 L212.0 1033.3 L212.3 1028.2 L212.5 1023.2 L212.7 1018.2 L212.9 1013.3 L213.2 1008.4 L213.4 1003.5 L213.6 998.7 L213.8 993.9 L214.1 989.2 L214.3 984.5 L214.5 979.8 L214.7 975.2 L215.0 970.6 L215.2 966.0 L215.4 961.5 L215.6 957.1 L215.9 952.6 L216.1 948.2 L216.3 943.9 L216.5 939.6 L216.8 935.3 L217.0 931.1 L217.2 926.8 L217.4 922.7 L217.7 918.5 L217.9 914.4 L218.1 910.4 L218.3 906.3 L218.6 902.4 L218.8 898.4 L219.0 894.5 L219.2 890.6 L219.5 886.7 L219.7 882.9 L219.9 879.1 L220.1 875.3 L220.4 871.6 L220.6 867.9 L220.8 864.2 L221.0 860.6 L221.3 857.0 L221.5 853.4 L221.7 849.9 L222.0 846.4 L222.2 842.9 L222.4 839.4 L222.6 836.0 L222.9 832.6 L223.1 829.3 L223.3 825.9 L223.5 822.6 L223.8 819.3 L224.0 816.1 L224.2 812.9 L224.4 809.7 L224.7 806.5 L224.9 803.3 L225.1 800.2 L225.3 797.1 L225.6 794.1 L225.8 791.0 L226.0 788.0 L226.2 785.0 L226.5 782.1 L226.7 779.1 L226.9 776.2 L227.1 773.3 L227.4 770.4 L227.6 767.6 L227.8 764.8 L228.0 762.0 L228.3 759.2 L228.5 756.5 L228.7 753.8 L228.9 751.0 L229.2 748.4 L229.4 745.7 L229.6 743.1 L229.8 740.5 L230.8 730.2 L231.7 720.3 L232.6 710.7 L233.5 701.5 L234.4 692.5 L235.3 683.8 L236.2 675.4 L237.1 667.3 L238.0 659.4 L238.9 651.8 L239.8 644.4 L240.7 637.2 L241.6 630.3 L242.5 623.6 L243.4 617.1 L244.3 610.8 L245.2 604.6 L246.1 598.7 L247.0 593.0 L247.9 587.4 L248.8 582.0 L249.7 576.7 L250.6 571.6 L251.5 566.7 L252.4 561.9 L253.3 557.2 L254.2 552.7 L255.1 548.3 L256.0 544.0 L256.9 539.8 L257.8 535.8 L258.7 531.9 L259.6 528.0 L260.5 524.3 L261.4 520.7 L262.3 517.2 L263.2 513.7 L264.1 510.4 L265.0 507.1 L265.9 504.0 L266.8 500.9 L267.7 497.9 L268.7 494.9 L269.6 492.1 L270.5 489.3 L271.4 486.5 L272.3 483.9 L273.2 481.3 L274.1 478.7 L275.0 476.3 L275.9 473.8 L276.8 471.5 L277.7 469.1 L278.6 466.9 L279.5 464.7 L280.4 462.5 L281.3 460.4 L282.2 458.3 L283.1 456.2 L284.0 454.2 L284.9 452.3 L285.8 450.4 L286.7 448.5 L287.6 446.6 L288.5 444.8 L289.4 443.0 L290.3 441.3 L291.2 439.6 L292.1 437.9 L293.0 436.2 L293.9 434.6 L294.8 433.0 L295.7 431.4 L296.6 429.9 L297.5 428.4 L298.4 426.8 L299.3 425.4 L300.2 423.9 L301.1 422.5 L302.0 421.1 L302.9 419.7 L303.8 418.3 L304.7 416.9 L305.6 415.6 L306.6 414.3 L307.5 413.0 L308.4 411.7 L309.3 410.4 L310.2 409.2 L311.1 407.9 L312.0 406.7 L312.9 405.5 L313.8 404.3 L314.7 403.1 L315.6 402.0 L316.5 400.8 L317.4 399.6 L318.3 398.5 L319.2 397.4 L320.1 396.3 L321.0 395.2 L321.9 394.1 L322.8 393.0 L323.7 391.9 L324.6 390.9 L325.5 389.8 L326.4 388.8 L327.3 387.8 L328.2 386.7 L329.1 385.7 L330.0 384.7 L330.9 383.7 L331.8 382.7 L332.7 381.8 L333.6 380.8 L334.5 379.8 L335.4 378.9 L336.3 377.9 L337.2 377.0 L338.1 376.0 L339.0 375.1 L339.9 374.2 L340.8 373.2 L341.7 372.3 L342.6 371.4 L343.6 370.5 L344.5 369.6 L345.4 368.7 L346.3 367.8 L347.2 367.0 L351.7 362.6 L356.2 358.4 L360.7 354.3 L365.2 350.3 L369.7 346.4 L374.2 342.5 L378.7 338.8 L383.3 335.1 L387.8 331.5 L392.3 327.9 L396.8 324.5 L401.3 321.1 L405.8 317.7 L410.3 314.4 L414.8 311.2 L419.4 308.0 L423.9 304.9 L428.4 301.8 L432.9 298.8 L437.4 295.8 L441.9 292.9 L446.4 290.0 L450.9 287.2 L455.4 284.4 L460.0 281.7 L464.5 279.0 L469.0 276.3 L473.5 273.7 L478.0 271.2 L482.5 268.7 L487.0 266.2 L491.5 263.8 L496.1 261.4 L500.6 259.0 L505.1 256.7 L509.6 254.5 L514.1 252.2 L518.6 250.0 L523.1 247.9 L527.6 245.8 L532.2 243.7 L536.7 241.6 L541.2 239.6 L545.7 237.6 L550.2 235.7 L554.7 233.8 L559.2 231.9 L563.7 230.0 L568.2 228.2 L572.8 226.4 L577.3 224.7 L581.8 222.9 L586.3 221.2 L590.8 219.6 L595.3 217.9 L599.8 216.3 L604.3 214.7 L608.9 213.2 L613.4 211.7 L617.9 210.2 L622.4 208.7 L626.9 207.2 L631.4 205.8 L635.9 204.4 L640.4 203.0 L645.0 201.7 L649.5 200.3 L654.0 199.0 L658.5 197.8 L663.0 196.5 L667.5 195.3 L672.0 194.0 L676.5 192.8 L681.0 191.7 L685.6 190.5 L690.1 189.4 L694.6 188.3 L699.1 187.2 L703.6 186.1 L708.1 185.0 L712.6 184.0 L717.1 183.0 L721.7 182.0 L726.2 181.0 L730.7 180.0 L735.2 179.1 L739.7 178.2 L744.2 177.2 L748.7 176.3 L753.2 175.5 L757.8 174.6 L762.3 173.7 L766.8 172.9 L771.3 172.1 L775.8 171.3 L780.3 170.5 L784.8 169.7 L789.3 168.9 L793.8 168.2 L798.4 167.5 L802.9 166.7 L807.4 166.0 L811.9 165.3 L816.4 164.6 L820.9 164.0 L825.4 163.3 L829.9 162.7 L834.5 162.0 L839.0 161.4 L843.5 160.8 L848.0 160.2 L852.5 159.6 L857.0 159.0 L861.5 158.4 L866.0 157.9 L870.6 157.3 L875.1 156.8 L879.6 156.2 L884.1 155.7 L888.6 155.2 L893.1 154.7 L897.6 154.2 L902.1 153.7 L906.6 153.2 L911.2 152.8 L915.7 152.3 L920.2 151.9 L924.7 151.4 L929.2 151.0 L933.7 150.6 L938.2 150.1 L942.7 149.7 L947.3 149.3 L951.8 148.9 L956.3 148.5 L960.8 148.2 L965.3 147.8 L969.8 147.4 L974.3 147.0 L978.8 146.7 L983.4 146.3 L987.9 146.0 L992.4 145.7 L996.9 145.3 L1001.4 145.0 L1005.9 144.7 L1010.4 144.4 L1014.9 144.1 L1019.4 143.8 L1024.0 143.5 L1028.5 143.2 L1033.0 142.9 L1037.5 142.6 L1042.0 142.4 L1046.5 142.1 L1051.0 141.8 L1055.5 141.6 L1060.1 141.3 L1064.6 141.1 L1069.1 140.8 L1073.6 140.6 L1078.1 140.3 L1082.6 140.1 L1087.1 139.9 L1091.6 139.7 L1096.2 139.4 L1100.7 139.2 L1105.2 139.0 L1109.7 138.8 L1114.2 138.6 L1118.7 138.4 L1123.2 138.2 L1127.7 138.0 L1132.2 137.8 L1136.8 137.6 L1141.3 137.5 L1145.8 137.3 L1150.3 137.1 L1154.8 136.9 L1159.3 136.8 L1163.8 136.6 L1168.3 136.4 L1172.9 136.3 L1177.4 136.1 L1181.9 136.0 L1186.4 135.8 L1190.9 135.7 L1195.4 135.5 L1199.9 135.4 L1204.4 135.2 L1209.0 135.1 L1213.5 135.0 L1218.0 134.8 L1222.5 134.7 L1227.0 134.6 L1231.5 134.5 L1236.0 134.3 L1240.5 134.2 L1245.0 134.1 L1249.6 134.0 L1254.1 133.9 L1258.6 133.8 L1263.1 133.6 L1267.6 133.5 L1272.1 133.4 L1276.6 133.3 L1281.1 133.2 L1285.7 133.1 L1290.2 133.0 L1294.7 132.9 L1299.2 132.8 L1303.7 132.8 L1308.2 132.7 L1312.7 132.6 L1317.2 132.5 L1321.8 132.4 L1326.3 132.3 L1330.8 132.2 L1335.3 132.2 L1339.8 132.1 L1344.3 132.0 L1348.8 131.9 L1353.3 131.8 L1357.8 131.8 L1362.4 131.7 L1366.9 131.6 L1371.4 131.6 L1375.9 131.5 L1380.4 131.4 L1384.9 131.4 L1389.4 131.3 L1393.9 131.2 L1398.5 131.2 L1403.0 131.1 L1407.5 131.1 L1412.0 131.0 L1416.5 130.9 L1421.0 130.9 L1425.5 130.8 L1430.0 130.8 L1434.6 130.7 L1439.1 130.7 L1443.6 130.6 L1448.1 130.6 L1452.6 130.5 L1457.1 130.5 L1461.6 130.4 L1466.1 130.4 L1470.6 130.3 L1475.2 130.3 L1479.7 130.2 L1484.2 130.2 L1488.7 130.2 L1493.2 130.1 L1497.7 130.1 L1502.2 130.0 L1506.7 130.0 L1511.3 130.0 L1515.8 129.9 L1520.3 129.9 L1524.8 129.8 L1529.3 129.8 L1533.8 129.8 L1538.3 129.7 L1542.8 129.7 L1547.4 129.7 L1551.9 129.6 L1556.4 129.6 L1560.9 129.6 L1565.4 129.5" fill="none" stroke="#de7a22" stroke-width="3.4" stroke-linejoin="round"/>
<g fill="#de7a22" stroke="none">
<circle cx="219.2" cy="927.3" r="16.2"/>
<circle cx="226.4" cy="801.7" r="16.2"/>
<circle cx="239.6" cy="618.3" r="16.2"/>
<circle cx="266.8" cy="444.4" r="16.2"/>
<circle cx="326.4" cy="400.2" r="16.2"/>
<circle cx="441.8" cy="296.6" r="16.2"/>
<circle cx="673.6" cy="189.0" r="16.2"/>
<circle cx="1135.6" cy="117.1" r="16.2"/>
</g>
<path d="M211.8 1038.4 L212.0 1027.3 L212.3 1016.4 L212.5 1005.6 L212.7 995.0 L212.9 984.5 L213.2 974.1 L213.4 963.9 L213.6 953.9 L213.8 944.0 L214.1 934.3 L214.3 924.6 L214.5 915.2 L214.7 905.8 L215.0 896.6 L215.2 887.5 L215.4 878.6 L215.6 869.7 L215.9 861.0 L216.1 852.5 L216.3 844.0 L216.5 835.7 L216.8 827.5 L217.0 819.4 L217.2 811.4 L217.4 803.6 L217.7 795.8 L217.9 788.2 L218.1 780.6 L218.3 773.2 L218.6 765.9 L218.8 758.7 L219.0 751.6 L219.2 744.6 L219.5 737.7 L219.7 730.8 L219.9 724.1 L220.1 717.5 L220.4 711.0 L220.6 704.6 L220.8 698.2 L221.0 692.0 L221.3 685.8 L221.5 679.7 L221.7 673.8 L222.0 667.9 L222.2 662.0 L222.4 656.3 L222.6 650.7 L222.9 645.1 L223.1 639.6 L223.3 634.2 L223.5 628.8 L223.8 623.6 L224.0 618.4 L224.2 613.3 L224.4 608.2 L224.7 603.3 L224.9 598.4 L225.1 593.5 L225.3 588.8 L225.6 584.1 L225.8 579.5 L226.0 574.9 L226.2 570.4 L226.5 566.0 L226.7 561.6 L226.9 557.3 L227.1 553.1 L227.4 548.9 L227.6 544.7 L227.8 540.7 L228.0 536.7 L228.3 532.7 L228.5 528.8 L228.7 525.0 L228.9 521.2 L229.2 517.4 L229.4 513.7 L229.6 510.1 L229.8 506.5 L230.8 492.7 L231.7 479.6 L232.6 467.3 L233.5 455.6 L234.4 444.6 L235.3 434.1 L236.2 424.3 L237.1 414.9 L238.0 406.1 L238.9 397.8 L239.8 389.9 L240.7 382.4 L241.6 375.3 L242.5 368.6 L243.4 362.3 L244.3 356.3 L245.2 350.6 L246.1 345.2 L247.0 340.1 L247.9 335.3 L248.8 330.7 L249.7 326.3 L250.6 322.2 L251.5 318.3 L252.4 314.6 L253.3 311.1 L254.2 307.7 L255.1 304.5 L256.0 301.5 L256.9 298.6 L257.8 295.9 L258.7 293.3 L259.6 290.8 L260.5 288.4 L261.4 286.2 L262.3 284.0 L263.2 282.0 L264.1 280.0 L265.0 278.2 L265.9 276.4 L266.8 274.7 L267.7 273.1 L268.7 271.5 L269.6 270.0 L270.5 268.6 L271.4 267.2 L272.3 265.9 L273.2 264.6 L274.1 263.4 L275.0 262.2 L275.9 261.1 L276.8 260.0 L277.7 259.0 L278.6 258.0 L279.5 257.0 L280.4 256.1 L281.3 255.2 L282.2 254.3 L283.1 253.4 L284.0 252.6 L284.9 251.8 L285.8 251.1 L286.7 250.3 L287.6 249.6 L288.5 248.9 L289.4 248.2 L290.3 247.5 L291.2 246.8 L292.1 246.2 L293.0 245.6 L293.9 245.0 L294.8 244.4 L295.7 243.8 L296.6 243.2 L297.5 242.7 L298.4 242.1 L299.3 241.6 L300.2 241.0 L301.1 240.5 L302.0 240.0 L302.9 239.5 L303.8 239.0 L304.7 238.5 L305.6 238.0 L306.6 237.6 L307.5 237.1 L308.4 236.6 L309.3 236.2 L310.2 235.7 L311.1 235.3 L312.0 234.9 L312.9 234.4 L313.8 234.0 L314.7 233.6 L315.6 233.1 L316.5 232.7 L317.4 232.3 L318.3 231.9 L319.2 231.5 L320.1 231.1 L321.0 230.7 L321.9 230.3 L322.8 229.9 L323.7 229.5 L324.6 229.1 L325.5 228.7 L326.4 228.4 L327.3 228.0 L328.2 227.6 L329.1 227.2 L330.0 226.9 L330.9 226.5 L331.8 226.1 L332.7 225.7 L333.6 225.4 L334.5 225.0 L335.4 224.7 L336.3 224.3 L337.2 223.9 L338.1 223.6 L339.0 223.2 L339.9 222.9 L340.8 222.5 L341.7 222.2 L342.6 221.8 L343.6 221.5 L344.5 221.1 L345.4 220.8 L346.3 220.4 L347.2 220.1 L351.7 218.4 L356.2 216.8 L360.7 215.1 L365.2 213.5 L369.7 212.0 L374.2 210.4 L378.7 208.9 L383.3 207.4 L387.8 205.9 L392.3 204.5 L396.8 203.0 L401.3 201.6 L405.8 200.2 L410.3 198.9 L414.8 197.5 L419.4 196.2 L423.9 194.9 L428.4 193.6 L432.9 192.4 L437.4 191.2 L441.9 189.9 L446.4 188.7 L450.9 187.6 L455.4 186.4 L460.0 185.3 L464.5 184.2 L469.0 183.1 L473.5 182.0 L478.0 180.9 L482.5 179.9 L487.0 178.9 L491.5 177.9 L496.1 176.9 L500.6 175.9 L505.1 175.0 L509.6 174.0 L514.1 173.1 L518.6 172.2 L523.1 171.3 L527.6 170.5 L532.2 169.6 L536.7 168.8 L541.2 168.0 L545.7 167.2 L550.2 166.4 L554.7 165.6 L559.2 164.8 L563.7 164.1 L568.2 163.4 L572.8 162.6 L577.3 161.9 L581.8 161.2 L586.3 160.6 L590.8 159.9 L595.3 159.2 L599.8 158.6 L604.3 158.0 L608.9 157.3 L613.4 156.7 L617.9 156.1 L622.4 155.6 L626.9 155.0 L631.4 154.4 L635.9 153.9 L640.4 153.3 L645.0 152.8 L649.5 152.3 L654.0 151.8 L658.5 151.3 L663.0 150.8 L667.5 150.3 L672.0 149.9 L676.5 149.4 L681.0 148.9 L685.6 148.5 L690.1 148.1 L694.6 147.6 L699.1 147.2 L703.6 146.8 L708.1 146.4 L712.6 146.0 L717.1 145.6 L721.7 145.3 L726.2 144.9 L730.7 144.5 L735.2 144.2 L739.7 143.8 L744.2 143.5 L748.7 143.2 L753.2 142.8 L757.8 142.5 L762.3 142.2 L766.8 141.9 L771.3 141.6 L775.8 141.3 L780.3 141.0 L784.8 140.7 L789.3 140.5 L793.8 140.2 L798.4 139.9 L802.9 139.7 L807.4 139.4 L811.9 139.2 L816.4 138.9 L820.9 138.7 L825.4 138.5 L829.9 138.2 L834.5 138.0 L839.0 137.8 L843.5 137.6 L848.0 137.4 L852.5 137.2 L857.0 137.0 L861.5 136.8 L866.0 136.6 L870.6 136.4 L875.1 136.2 L879.6 136.0 L884.1 135.8 L888.6 135.7 L893.1 135.5 L897.6 135.3 L902.1 135.2 L906.6 135.0 L911.2 134.9 L915.7 134.7 L920.2 134.6 L924.7 134.4 L929.2 134.3 L933.7 134.1 L938.2 134.0 L942.7 133.9 L947.3 133.7 L951.8 133.6 L956.3 133.5 L960.8 133.3 L965.3 133.2 L969.8 133.1 L974.3 133.0 L978.8 132.9 L983.4 132.8 L987.9 132.7 L992.4 132.6 L996.9 132.5 L1001.4 132.4 L1005.9 132.3 L1010.4 132.2 L1014.9 132.1 L1019.4 132.0 L1024.0 131.9 L1028.5 131.8 L1033.0 131.7 L1037.5 131.6 L1042.0 131.5 L1046.5 131.5 L1051.0 131.4 L1055.5 131.3 L1060.1 131.2 L1064.6 131.2 L1069.1 131.1 L1073.6 131.0 L1078.1 131.0 L1082.6 130.9 L1087.1 130.8 L1091.6 130.8 L1096.2 130.7 L1100.7 130.6 L1105.2 130.6 L1109.7 130.5 L1114.2 130.5 L1118.7 130.4 L1123.2 130.3 L1127.7 130.3 L1132.2 130.2 L1136.8 130.2 L1141.3 130.1 L1145.8 130.1 L1150.3 130.0 L1154.8 130.0 L1159.3 129.9 L1163.8 129.9 L1168.3 129.9 L1172.9 129.8 L1177.4 129.8 L1181.9 129.7 L1186.4 129.7 L1190.9 129.7 L1195.4 129.6 L1199.9 129.6 L1204.4 129.5 L1209.0 129.5 L1213.5 129.5 L1218.0 129.4 L1222.5 129.4 L1227.0 129.4 L1231.5 129.3 L1236.0 129.3 L1240.5 129.3 L1245.0 129.2 L1249.6 129.2 L1254.1 129.2 L1258.6 129.2 L1263.1 129.1 L1267.6 129.1 L1272.1 129.1 L1276.6 129.1 L1281.1 129.0 L1285.7 129.0 L1290.2 129.0 L1294.7 129.0 L1299.2 128.9 L1303.7 128.9 L1308.2 128.9 L1312.7 128.9 L1317.2 128.9 L1321.8 128.8 L1326.3 128.8 L1330.8 128.8 L1335.3 128.8 L1339.8 128.8 L1344.3 128.7 L1348.8 128.7 L1353.3 128.7 L1357.8 128.7 L1362.4 128.7 L1366.9 128.7 L1371.4 128.6 L1375.9 128.6 L1380.4 128.6 L1384.9 128.6 L1389.4 128.6 L1393.9 128.6 L1398.5 128.6 L1403.0 128.5 L1407.5 128.5 L1412.0 128.5 L1416.5 128.5 L1421.0 128.5 L1425.5 128.5 L1430.0 128.5 L1434.6 128.5 L1439.1 128.4 L1443.6 128.4 L1448.1 128.4 L1452.6 128.4 L1457.1 128.4 L1461.6 128.4 L1466.1 128.4 L1470.6 128.4 L1475.2 128.4 L1479.7 128.4 L1484.2 128.4 L1488.7 128.3 L1493.2 128.3 L1497.7 128.3 L1502.2 128.3 L1506.7 128.3 L1511.3 128.3 L1515.8 128.3 L1520.3 128.3 L1524.8 128.3 L1529.3 128.3 L1533.8 128.3 L1538.3 128.3 L1542.8 128.3 L1547.4 128.2 L1551.9 128.2 L1556.4 128.2 L1560.9 128.2 L1565.4 128.2" fill="none" stroke="#6000ff" stroke-width="3.4" stroke-linejoin="round"/>
<g fill="#6000ff" stroke="none">
<circle cx="216.4" cy="942.8" r="16.2"/>
<circle cx="219.2" cy="768.9" r="16.2"/>
<circle cx="226.4" cy="590.5" r="16.2"/>
<circle cx="239.6" cy="395.7" r="16.2"/>
<circle cx="269.0" cy="268.2" r="16.2"/>
<circle cx="326.4" cy="233.6" r="16.2"/>
<circle cx="441.8" cy="201.7" r="16.2"/>
<circle cx="673.6" cy="139.2" r="16.2"/>
<circle cx="1135.6" cy="113.6" r="16.2"/>
</g>
<path d="M211.8 1038.4 L212.0 1034.4 L212.3 1030.3 L212.5 1026.3 L212.7 1022.3 L212.9 1018.4 L213.2 1014.4 L213.4 1010.5 L213.6 1006.6 L213.8 1002.7 L214.1 998.8 L214.3 995.0 L214.5 991.2 L214.7 987.4 L215.0 983.6 L215.2 979.8 L215.4 976.1 L215.6 972.4 L215.9 968.7 L216.1 965.0 L216.3 961.4 L216.5 957.7 L216.8 954.1 L217.0 950.5 L217.2 946.9 L217.4 943.4 L217.7 939.9 L217.9 936.3 L218.1 932.8 L218.3 929.4 L218.6 925.9 L218.8 922.5 L219.0 919.1 L219.2 915.7 L219.5 912.3 L219.7 908.9 L219.9 905.6 L220.1 902.3 L220.4 898.9 L220.6 895.7 L220.8 892.4 L221.0 889.1 L221.3 885.9 L221.5 882.7 L221.7 879.5 L222.0 876.3 L222.2 873.2 L222.4 870.0 L222.6 866.9 L222.9 863.8 L223.1 860.7 L223.3 857.6 L223.5 854.6 L223.8 851.5 L224.0 848.5 L224.2 845.5 L224.4 842.5 L224.7 839.6 L224.9 836.6 L225.1 833.7 L225.3 830.8 L225.6 827.9 L225.8 825.0 L226.0 822.1 L226.2 819.2 L226.5 816.4 L226.7 813.6 L226.9 810.8 L227.1 808.0 L227.4 805.2 L227.6 802.4 L227.8 799.7 L228.0 797.0 L228.3 794.2 L228.5 791.6 L228.7 788.9 L228.9 786.2 L229.2 783.5 L229.4 780.9 L229.6 778.3 L229.8 775.7 L230.8 765.4 L231.7 755.3 L232.6 745.5 L233.5 735.8 L234.4 726.4 L235.3 717.2 L236.2 708.2 L237.1 699.4 L238.0 690.8 L238.9 682.4 L239.8 674.1 L240.7 666.1 L241.6 658.2 L242.5 650.5 L243.4 642.9 L244.3 635.6 L245.2 628.3 L246.1 621.3 L247.0 614.4 L247.9 607.6 L248.8 601.0 L249.7 594.6 L250.6 588.2 L251.5 582.0 L252.4 576.0 L253.3 570.1 L254.2 564.3 L255.1 558.6 L256.0 553.0 L256.9 547.6 L257.8 542.3 L258.7 537.1 L259.6 532.0 L260.5 527.0 L261.4 522.1 L262.3 517.4 L263.2 512.7 L264.1 508.1 L265.0 503.6 L265.9 499.2 L266.8 494.9 L267.7 490.7 L268.7 486.6 L269.6 482.6 L270.5 478.6 L271.4 474.8 L272.3 471.0 L273.2 467.3 L274.1 463.6 L275.0 460.1 L275.9 456.6 L276.8 453.2 L277.7 449.8 L278.6 446.6 L279.5 443.4 L280.4 440.2 L281.3 437.1 L282.2 434.1 L283.1 431.1 L284.0 428.2 L284.9 425.4 L285.8 422.6 L286.7 419.9 L287.6 417.2 L288.5 414.6 L289.4 412.0 L290.3 409.5 L291.2 407.0 L292.1 404.6 L293.0 402.2 L293.9 399.8 L294.8 397.6 L295.7 395.3 L296.6 393.1 L297.5 390.9 L298.4 388.8 L299.3 386.7 L300.2 384.7 L301.1 382.7 L302.0 380.7 L302.9 378.8 L303.8 376.9 L304.7 375.0 L305.6 373.2 L306.6 371.4 L307.5 369.6 L308.4 367.9 L309.3 366.2 L310.2 364.5 L311.1 362.9 L312.0 361.2 L312.9 359.7 L313.8 358.1 L314.7 356.6 L315.6 355.1 L316.5 353.6 L317.4 352.1 L318.3 350.7 L319.2 349.3 L320.1 347.9 L321.0 346.5 L321.9 345.2 L322.8 343.9 L323.7 342.6 L324.6 341.3 L325.5 340.1 L326.4 338.8 L327.3 337.6 L328.2 336.4 L329.1 335.2 L330.0 334.1 L330.9 332.9 L331.8 331.8 L332.7 330.7 L333.6 329.6 L334.5 328.5 L335.4 327.5 L336.3 326.4 L337.2 325.4 L338.1 324.4 L339.0 323.4 L339.9 322.4 L340.8 321.4 L341.7 320.5 L342.6 319.5 L343.6 318.6 L344.5 317.7 L345.4 316.8 L346.3 315.9 L347.2 315.0 L351.7 310.8 L356.2 306.8 L360.7 303.0 L365.2 299.5 L369.7 296.1 L374.2 293.0 L378.7 289.9 L383.3 287.0 L387.8 284.2 L392.3 281.6 L396.8 279.0 L401.3 276.5 L405.8 274.1 L410.3 271.8 L414.8 269.6 L419.4 267.4 L423.9 265.3 L428.4 263.2 L432.9 261.2 L437.4 259.2 L441.9 257.3 L446.4 255.4 L450.9 253.5 L455.4 251.7 L460.0 249.9 L464.5 248.2 L469.0 246.4 L473.5 244.7 L478.0 243.0 L482.5 241.4 L487.0 239.8 L491.5 238.2 L496.1 236.6 L500.6 235.0 L505.1 233.5 L509.6 232.0 L514.1 230.5 L518.6 229.0 L523.1 227.6 L527.6 226.1 L532.2 224.7 L536.7 223.3 L541.2 221.9 L545.7 220.6 L550.2 219.2 L554.7 217.9 L559.2 216.6 L563.7 215.3 L568.2 214.0 L572.8 212.7 L577.3 211.5 L581.8 210.3 L586.3 209.0 L590.8 207.8 L595.3 206.7 L599.8 205.5 L604.3 204.3 L608.9 203.2 L613.4 202.1 L617.9 200.9 L622.4 199.8 L626.9 198.8 L631.4 197.7 L635.9 196.6 L640.4 195.6 L645.0 194.6 L649.5 193.5 L654.0 192.5 L658.5 191.6 L663.0 190.6 L667.5 189.6 L672.0 188.7 L676.5 187.7 L681.0 186.8 L685.6 185.9 L690.1 185.0 L694.6 184.1 L699.1 183.2 L703.6 182.4 L708.1 181.5 L712.6 180.7 L717.1 179.9 L721.7 179.0 L726.2 178.2 L730.7 177.4 L735.2 176.7 L739.7 175.9 L744.2 175.1 L748.7 174.4 L753.2 173.6 L757.8 172.9 L762.3 172.2 L766.8 171.5 L771.3 170.8 L775.8 170.1 L780.3 169.4 L784.8 168.8 L789.3 168.1 L793.8 167.4 L798.4 166.8 L802.9 166.2 L807.4 165.6 L811.9 164.9 L816.4 164.3 L820.9 163.7 L825.4 163.2 L829.9 162.6 L834.5 162.0 L839.0 161.5 L843.5 160.9 L848.0 160.4 L852.5 159.8 L857.0 159.3 L861.5 158.8 L866.0 158.3 L870.6 157.8 L875.1 157.3 L879.6 156.8 L884.1 156.3 L888.6 155.8 L893.1 155.4 L897.6 154.9 L902.1 154.5 L906.6 154.0 L911.2 153.6 L915.7 153.2 L920.2 152.7 L924.7 152.3 L929.2 151.9 L933.7 151.5 L938.2 151.1 L942.7 150.7 L947.3 150.3 L951.8 149.9 L956.3 149.6 L960.8 149.2 L965.3 148.8 L969.8 148.5 L974.3 148.1 L978.8 147.8 L983.4 147.4 L987.9 147.1 L992.4 146.8 L996.9 146.5 L1001.4 146.1 L1005.9 145.8 L1010.4 145.5 L1014.9 145.2 L1019.4 144.9 L1024.0 144.6 L1028.5 144.3 L1033.0 144.0 L1037.5 143.8 L1042.0 143.5 L1046.5 143.2 L1051.0 143.0 L1055.5 142.7 L1060.1 142.4 L1064.6 142.2 L1069.1 141.9 L1073.6 141.7 L1078.1 141.4 L1082.6 141.2 L1087.1 141.0 L1091.6 140.8 L1096.2 140.5 L1100.7 140.3 L1105.2 140.1 L1109.7 139.9 L1114.2 139.7 L1118.7 139.5 L1123.2 139.2 L1127.7 139.0 L1132.2 138.9 L1136.8 138.7 L1141.3 138.5 L1145.8 138.3 L1150.3 138.1 L1154.8 137.9 L1159.3 137.7 L1163.8 137.6 L1168.3 137.4 L1172.9 137.2 L1177.4 137.1 L1181.9 136.9 L1186.4 136.7 L1190.9 136.6 L1195.4 136.4 L1199.9 136.3 L1204.4 136.1 L1209.0 136.0 L1213.5 135.8 L1218.0 135.7 L1222.5 135.5 L1227.0 135.4 L1231.5 135.3 L1236.0 135.1 L1240.5 135.0 L1245.0 134.9 L1249.6 134.8 L1254.1 134.6 L1258.6 134.5 L1263.1 134.4 L1267.6 134.3 L1272.1 134.2 L1276.6 134.0 L1281.1 133.9 L1285.7 133.8 L1290.2 133.7 L1294.7 133.6 L1299.2 133.5 L1303.7 133.4 L1308.2 133.3 L1312.7 133.2 L1317.2 133.1 L1321.8 133.0 L1326.3 132.9 L1330.8 132.8 L1335.3 132.7 L1339.8 132.7 L1344.3 132.6 L1348.8 132.5 L1353.3 132.4 L1357.8 132.3 L1362.4 132.2 L1366.9 132.2 L1371.4 132.1 L1375.9 132.0 L1380.4 131.9 L1384.9 131.9 L1389.4 131.8 L1393.9 131.7 L1398.5 131.6 L1403.0 131.6 L1407.5 131.5 L1412.0 131.4 L1416.5 131.4 L1421.0 131.3 L1425.5 131.2 L1430.0 131.2 L1434.6 131.1 L1439.1 131.1 L1443.6 131.0 L1448.1 131.0 L1452.6 130.9 L1457.1 130.8 L1461.6 130.8 L1466.1 130.7 L1470.6 130.7 L1475.2 130.6 L1479.7 130.6 L1484.2 130.5 L1488.7 130.5 L1493.2 130.4 L1497.7 130.4 L1502.2 130.3 L1506.7 130.3 L1511.3 130.3 L1515.8 130.2 L1520.3 130.2 L1524.8 130.1 L1529.3 130.1 L1533.8 130.0 L1538.3 130.0 L1542.8 130.0 L1547.4 129.9 L1551.9 129.9 L1556.4 129.9 L1560.9 129.8 L1565.4 129.8" fill="none" stroke="#d8181c" stroke-width="3.4" stroke-linejoin="round"/>
<g fill="#d8181c" stroke="none">
<circle cx="219.2" cy="954.0" r="16.2"/>
<circle cx="226.4" cy="839.9" r="16.2"/>
<circle cx="239.6" cy="663.6" r="16.2"/>
<circle cx="269.0" cy="468.5" r="16.2"/>
<circle cx="326.4" cy="361.4" r="16.2"/>
<circle cx="441.8" cy="253.6" r="16.2"/>
<circle cx="673.6" cy="180.3" r="16.2"/>
<circle cx="1135.6" cy="158.0" r="16.2"/>
</g>
<path d="M211.8 1038.4 L212.0 1035.4 L212.3 1032.5 L212.5 1029.5 L212.7 1026.6 L212.9 1023.6 L213.2 1020.7 L213.4 1017.8 L213.6 1014.9 L213.8 1012.0 L214.1 1009.1 L214.3 1006.2 L214.5 1003.4 L214.7 1000.5 L215.0 997.7 L215.2 994.9 L215.4 992.0 L215.6 989.2 L215.9 986.4 L216.1 983.6 L216.3 980.9 L216.5 978.1 L216.8 975.3 L217.0 972.6 L217.2 969.9 L217.4 967.1 L217.7 964.4 L217.9 961.7 L218.1 959.0 L218.3 956.3 L218.6 953.7 L218.8 951.0 L219.0 948.4 L219.2 945.7 L219.5 943.1 L219.7 940.5 L219.9 937.9 L220.1 935.3 L220.4 932.7 L220.6 930.1 L220.8 927.5 L221.0 925.0 L221.3 922.4 L221.5 919.9 L221.7 917.4 L222.0 914.9 L222.2 912.4 L222.4 909.9 L222.6 907.4 L222.9 904.9 L223.1 902.4 L223.3 900.0 L223.5 897.5 L223.8 895.1 L224.0 892.7 L224.2 890.2 L224.4 887.8 L224.7 885.4 L224.9 883.0 L225.1 880.7 L225.3 878.3 L225.6 875.9 L225.8 873.6 L226.0 871.2 L226.2 868.9 L226.5 866.6 L226.7 864.3 L226.9 862.0 L227.1 859.7 L227.4 857.4 L227.6 855.1 L227.8 852.8 L228.0 850.6 L228.3 848.3 L228.5 846.1 L228.7 843.8 L228.9 841.6 L229.2 839.4 L229.4 837.2 L229.6 835.0 L229.8 832.8 L230.8 824.1 L231.7 815.6 L232.6 807.2 L233.5 798.9 L234.4 790.8 L235.3 782.8 L236.2 774.9 L237.1 767.2 L238.0 759.5 L238.9 752.0 L239.8 744.6 L240.7 737.3 L241.6 730.2 L242.5 723.1 L243.4 716.2 L244.3 709.3 L245.2 702.6 L246.1 696.0 L247.0 689.5 L247.9 683.1 L248.8 676.7 L249.7 670.5 L250.6 664.4 L251.5 658.4 L252.4 652.4 L253.3 646.6 L254.2 640.8 L255.1 635.2 L256.0 629.6 L256.9 624.1 L257.8 618.7 L258.7 613.4 L259.6 608.1 L260.5 603.0 L261.4 597.9 L262.3 592.9 L263.2 588.0 L264.1 583.1 L265.0 578.3 L265.9 573.6 L266.8 569.0 L267.7 564.4 L268.7 559.9 L269.6 555.5 L270.5 551.2 L271.4 546.9 L272.3 542.6 L273.2 538.5 L274.1 534.4 L275.0 530.3 L275.9 526.3 L276.8 522.4 L277.7 518.5 L278.6 514.7 L279.5 511.0 L280.4 507.3 L281.3 503.6 L282.2 500.0 L283.1 496.5 L284.0 493.0 L284.9 489.6 L285.8 486.2 L286.7 482.9 L287.6 479.6 L288.5 476.3 L289.4 473.1 L290.3 470.0 L291.2 466.9 L292.1 463.8 L293.0 460.8 L293.9 457.8 L294.8 454.9 L295.7 452.0 L296.6 449.2 L297.5 446.4 L298.4 443.6 L299.3 440.9 L300.2 438.2 L301.1 435.5 L302.0 432.9 L302.9 430.4 L303.8 427.8 L304.7 425.3 L305.6 422.8 L306.6 420.4 L307.5 418.0 L308.4 415.6 L309.3 413.3 L310.2 411.0 L311.1 408.7 L312.0 406.4 L312.9 404.2 L313.8 402.0 L314.7 399.9 L315.6 397.8 L316.5 395.7 L317.4 393.6 L318.3 391.5 L319.2 389.5 L320.1 387.5 L321.0 385.6 L321.9 383.6 L322.8 381.7 L323.7 379.8 L324.6 378.0 L325.5 376.1 L326.4 374.3 L327.3 372.5 L328.2 370.7 L329.1 369.0 L330.0 367.3 L330.9 365.6 L331.8 363.9 L332.7 362.2 L333.6 360.6 L334.5 358.9 L335.4 357.3 L336.3 355.8 L337.2 354.2 L338.1 352.7 L339.0 351.1 L339.9 349.6 L340.8 348.1 L341.7 346.7 L342.6 345.2 L343.6 343.8 L344.5 342.4 L345.4 341.0 L346.3 339.6 L347.2 338.2 L351.7 331.6 L356.2 325.4 L360.7 319.5 L365.2 313.9 L369.7 308.6 L374.2 303.6 L378.7 298.8 L383.3 294.2 L387.8 289.9 L392.3 285.8 L396.8 281.8 L401.3 278.0 L405.8 274.4 L410.3 271.0 L414.8 267.6 L419.4 264.4 L423.9 261.3 L428.4 258.3 L432.9 255.5 L437.4 252.7 L441.9 250.0 L446.4 247.4 L450.9 244.9 L455.4 242.5 L460.0 240.1 L464.5 237.8 L469.0 235.6 L473.5 233.4 L478.0 231.3 L482.5 229.2 L487.0 227.2 L491.5 225.2 L496.1 223.3 L500.6 221.5 L505.1 219.6 L509.6 217.8 L514.1 216.1 L518.6 214.4 L523.1 212.7 L527.6 211.1 L532.2 209.5 L536.7 207.9 L541.2 206.4 L545.7 204.9 L550.2 203.4 L554.7 202.0 L559.2 200.6 L563.7 199.2 L568.2 197.8 L572.8 196.5 L577.3 195.1 L581.8 193.9 L586.3 192.6 L590.8 191.4 L595.3 190.1 L599.8 188.9 L604.3 187.8 L608.9 186.6 L613.4 185.5 L617.9 184.4 L622.4 183.3 L626.9 182.2 L631.4 181.2 L635.9 180.1 L640.4 179.1 L645.0 178.1 L649.5 177.1 L654.0 176.2 L658.5 175.2 L663.0 174.3 L667.5 173.4 L672.0 172.5 L676.5 171.6 L681.0 170.8 L685.6 169.9 L690.1 169.1 L694.6 168.3 L699.1 167.5 L703.6 166.7 L708.1 165.9 L712.6 165.1 L717.1 164.4 L721.7 163.7 L726.2 163.0 L730.7 162.3 L735.2 161.6 L739.7 160.9 L744.2 160.2 L748.7 159.6 L753.2 158.9 L757.8 158.3 L762.3 157.7 L766.8 157.1 L771.3 156.5 L775.8 155.9 L780.3 155.3 L784.8 154.8 L789.3 154.2 L793.8 153.7 L798.4 153.1 L802.9 152.6 L807.4 152.1 L811.9 151.6 L816.4 151.1 L820.9 150.6 L825.4 150.2 L829.9 149.7 L834.5 149.2 L839.0 148.8 L843.5 148.4 L848.0 147.9 L852.5 147.5 L857.0 147.1 L861.5 146.7 L866.0 146.3 L870.6 145.9 L875.1 145.5 L879.6 145.2 L884.1 144.8 L888.6 144.4 L893.1 144.1 L897.6 143.7 L902.1 143.4 L906.6 143.1 L911.2 142.7 L915.7 142.4 L920.2 142.1 L924.7 141.8 L929.2 141.5 L933.7 141.2 L938.2 140.9 L942.7 140.6 L947.3 140.4 L951.8 140.1 L956.3 139.8 L960.8 139.6 L965.3 139.3 L969.8 139.1 L974.3 138.8 L978.8 138.6 L983.4 138.4 L987.9 138.1 L992.4 137.9 L996.9 137.7 L1001.4 137.5 L1005.9 137.3 L1010.4 137.1 L1014.9 136.9 L1019.4 136.7 L1024.0 136.5 L1028.5 136.3 L1033.0 136.1 L1037.5 135.9 L1042.0 135.7 L1046.5 135.6 L1051.0 135.4 L1055.5 135.2 L1060.1 135.1 L1064.6 134.9 L1069.1 134.8 L1073.6 134.6 L1078.1 134.5 L1082.6 134.3 L1087.1 134.2 L1091.6 134.0 L1096.2 133.9 L1100.7 133.8 L1105.2 133.6 L1109.7 133.5 L1114.2 133.4 L1118.7 133.2 L1123.2 133.1 L1127.7 133.0 L1132.2 132.9 L1136.8 132.8 L1141.3 132.7 L1145.8 132.6 L1150.3 132.5 L1154.8 132.4 L1159.3 132.3 L1163.8 132.2 L1168.3 132.1 L1172.9 132.0 L1177.4 131.9 L1181.9 131.8 L1186.4 131.7 L1190.9 131.6 L1195.4 131.5 L1199.9 131.4 L1204.4 131.4 L1209.0 131.3 L1213.5 131.2 L1218.0 131.1 L1222.5 131.1 L1227.0 131.0 L1231.5 130.9 L1236.0 130.9 L1240.5 130.8 L1245.0 130.7 L1249.6 130.7 L1254.1 130.6 L1258.6 130.5 L1263.1 130.5 L1267.6 130.4 L1272.1 130.4 L1276.6 130.3 L1281.1 130.2 L1285.7 130.2 L1290.2 130.1 L1294.7 130.1 L1299.2 130.0 L1303.7 130.0 L1308.2 129.9 L1312.7 129.9 L1317.2 129.9 L1321.8 129.8 L1326.3 129.8 L1330.8 129.7 L1335.3 129.7 L1339.8 129.6 L1344.3 129.6 L1348.8 129.6 L1353.3 129.5 L1357.8 129.5 L1362.4 129.5 L1366.9 129.4 L1371.4 129.4 L1375.9 129.4 L1380.4 129.3 L1384.9 129.3 L1389.4 129.3 L1393.9 129.2 L1398.5 129.2 L1403.0 129.2 L1407.5 129.1 L1412.0 129.1 L1416.5 129.1 L1421.0 129.1 L1425.5 129.0 L1430.0 129.0 L1434.6 129.0 L1439.1 129.0 L1443.6 128.9 L1448.1 128.9 L1452.6 128.9 L1457.1 128.9 L1461.6 128.8 L1466.1 128.8 L1470.6 128.8 L1475.2 128.8 L1479.7 128.8 L1484.2 128.7 L1488.7 128.7 L1493.2 128.7 L1497.7 128.7 L1502.2 128.7 L1506.7 128.7 L1511.3 128.6 L1515.8 128.6 L1520.3 128.6 L1524.8 128.6 L1529.3 128.6 L1533.8 128.6 L1538.3 128.6 L1542.8 128.5 L1547.4 128.5 L1551.9 128.5 L1556.4 128.5 L1560.9 128.5 L1565.4 128.5" fill="none" stroke="#3a7a12" stroke-width="3.4" stroke-linejoin="round"/>
<g fill="#3a7a12" stroke="none">
<circle cx="215.4" cy="1022.2" r="16.2"/>
<circle cx="219.2" cy="977.0" r="16.2"/>
<circle cx="226.4" cy="903.0" r="16.2"/>
<circle cx="239.6" cy="730.2" r="16.2"/>
<circle cx="269.0" cy="549.0" r="16.2"/>
<circle cx="326.4" cy="386.6" r="16.2"/>
<circle cx="441.8" cy="250.0" r="16.2"/>
<circle cx="673.6" cy="170.8" r="16.2"/>
<circle cx="1135.6" cy="194.7" r="16.2"/>
</g>
<path d="M211.8 1038.4 L212.0 1013.5 L212.3 990.1 L212.5 967.8 L212.7 946.2 L212.9 925.5 L213.2 905.4 L213.4 886.1 L213.6 867.4 L213.8 849.3 L214.1 831.8 L214.3 815.0 L214.5 798.6 L214.7 782.8 L215.0 767.5 L215.2 752.8 L215.4 738.4 L215.6 724.6 L215.9 711.2 L216.1 698.2 L216.3 685.6 L216.5 673.4 L216.8 661.6 L217.0 650.2 L217.2 639.2 L217.4 628.4 L217.7 618.1 L217.9 608.0 L218.1 598.2 L218.3 588.8 L218.6 579.6 L218.8 570.7 L219.0 562.1 L219.2 553.8 L219.5 545.7 L219.7 537.8 L219.9 530.2 L220.1 522.8 L220.4 515.6 L220.6 508.6 L220.8 501.9 L221.0 495.3 L221.3 488.9 L221.5 482.8 L221.7 476.8 L222.0 470.9 L222.2 465.3 L222.4 459.8 L222.6 454.4 L222.9 449.2 L223.1 444.2 L223.3 439.3 L223.5 434.5 L223.8 429.9 L224.0 425.3 L224.2 421.0 L224.4 416.7 L224.7 412.5 L224.9 408.5 L225.1 404.6 L225.3 400.7 L225.6 397.0 L225.8 393.4 L226.0 389.8 L226.2 386.4 L226.5 383.0 L226.7 379.8 L226.9 376.6 L227.1 373.5 L227.4 370.4 L227.6 367.5 L227.8 364.6 L228.0 361.8 L228.3 359.1 L228.5 356.4 L228.7 353.8 L228.9 351.2 L229.2 348.7 L229.4 346.3 L229.6 343.9 L229.8 341.6 L230.8 332.8 L231.7 324.8 L232.6 317.5 L233.5 310.7 L234.4 304.4 L235.3 298.6 L236.2 293.2 L237.1 288.1 L238.0 283.4 L238.9 279.0 L239.8 274.8 L240.7 270.9 L241.6 267.1 L242.5 263.6 L243.4 260.2 L244.3 257.0 L245.2 253.9 L246.1 251.0 L247.0 248.1 L247.9 245.4 L248.8 242.8 L249.7 240.3 L250.6 237.8 L251.5 235.5 L252.4 233.2 L253.3 231.0 L254.2 228.8 L255.1 226.7 L256.0 224.7 L256.9 222.7 L257.8 220.8 L258.7 219.0 L259.6 217.1 L260.5 215.4 L261.4 213.7 L262.3 212.0 L263.2 210.3 L264.1 208.7 L265.0 207.2 L265.9 205.6 L266.8 204.1 L267.7 202.7 L268.7 201.3 L269.6 199.9 L270.5 198.5 L271.4 197.2 L272.3 195.9 L273.2 194.6 L274.1 193.3 L275.0 192.1 L275.9 190.9 L276.8 189.7 L277.7 188.6 L278.6 187.5 L279.5 186.4 L280.4 185.3 L281.3 184.2 L282.2 183.2 L283.1 182.2 L284.0 181.2 L284.9 180.2 L285.8 179.3 L286.7 178.4 L287.6 177.4 L288.5 176.5 L289.4 175.7 L290.3 174.8 L291.2 174.0 L292.1 173.1 L293.0 172.3 L293.9 171.5 L294.8 170.8 L295.7 170.0 L296.6 169.2 L297.5 168.5 L298.4 167.8 L299.3 167.1 L300.2 166.4 L301.1 165.7 L302.0 165.1 L302.9 164.4 L303.8 163.8 L304.7 163.1 L305.6 162.5 L306.6 161.9 L307.5 161.3 L308.4 160.7 L309.3 160.2 L310.2 159.6 L311.1 159.1 L312.0 158.5 L312.9 158.0 L313.8 157.5 L314.7 157.0 L315.6 156.5 L316.5 156.0 L317.4 155.5 L318.3 155.0 L319.2 154.5 L320.1 154.1 L321.0 153.6 L321.9 153.2 L322.8 152.8 L323.7 152.3 L324.6 151.9 L325.5 151.5 L326.4 151.1 L327.3 150.7 L328.2 150.3 L329.1 150.0 L330.0 149.6 L330.9 149.2 L331.8 148.9 L332.7 148.5 L333.6 148.2 L334.5 147.8 L335.4 147.5 L336.3 147.2 L337.2 146.8 L338.1 146.5 L339.0 146.2 L339.9 145.9 L340.8 145.6 L341.7 145.3 L342.6 145.0 L343.6 144.7 L344.5 144.5 L345.4 144.2 L346.3 143.9 L347.2 143.7 L351.7 142.4 L356.2 141.3 L360.7 140.2 L365.2 139.2 L369.7 138.4 L374.2 137.6 L378.7 136.8 L383.3 136.1 L387.8 135.5 L392.3 134.9 L396.8 134.4 L401.3 133.9 L405.8 133.4 L410.3 133.0 L414.8 132.7 L419.4 132.3 L423.9 132.0 L428.4 131.7 L432.9 131.4 L437.4 131.2 L441.9 130.9 L446.4 130.7 L450.9 130.5 L455.4 130.3 L460.0 130.1 L464.5 130.0 L469.0 129.8 L473.5 129.7 L478.0 129.6 L482.5 129.5 L487.0 129.4 L491.5 129.3 L496.1 129.2 L500.6 129.1 L505.1 129.0 L509.6 128.9 L514.1 128.9 L518.6 128.8 L523.1 128.8 L527.6 128.7 L532.2 128.6 L536.7 128.6 L541.2 128.6 L545.7 128.5 L550.2 128.5 L554.7 128.5 L559.2 128.4 L563.7 128.4 L568.2 128.4 L572.8 128.3 L577.3 128.3 L581.8 128.3 L586.3 128.3 L590.8 128.3 L595.3 128.2 L599.8 128.2 L604.3 128.2 L608.9 128.2 L613.4 128.2 L617.9 128.2 L622.4 128.2 L626.9 128.1 L631.4 128.1 L635.9 128.1 L640.4 128.1 L645.0 128.1 L649.5 128.1 L654.0 128.1 L658.5 128.1 L663.0 128.1 L667.5 128.1 L672.0 128.1 L676.5 128.1 L681.0 128.1 L685.6 128.1 L690.1 128.1 L694.6 128.1 L699.1 128.0 L703.6 128.0 L708.1 128.0 L712.6 128.0 L717.1 128.0 L721.7 128.0 L726.2 128.0 L730.7 128.0 L735.2 128.0 L739.7 128.0 L744.2 128.0 L748.7 128.0 L753.2 128.0 L757.8 128.0 L762.3 128.0 L766.8 128.0 L771.3 128.0 L775.8 128.0 L780.3 128.0 L784.8 128.0 L789.3 128.0 L793.8 128.0 L798.4 128.0 L802.9 128.0 L807.4 128.0 L811.9 128.0 L816.4 128.0 L820.9 128.0 L825.4 128.0 L829.9 128.0 L834.5 128.0 L839.0 128.0 L843.5 128.0 L848.0 128.0 L852.5 128.0 L857.0 128.0 L861.5 128.0 L866.0 128.0 L870.6 128.0 L875.1 128.0 L879.6 128.0 L884.1 128.0 L888.6 128.0 L893.1 128.0 L897.6 128.0 L902.1 128.0 L906.6 128.0 L911.2 128.0 L915.7 128.0 L920.2 128.0 L924.7 128.0 L929.2 128.0 L933.7 128.0 L938.2 128.0 L942.7 128.0 L947.3 128.0 L951.8 128.0 L956.3 128.0 L960.8 128.0 L965.3 128.0 L969.8 128.0 L974.3 128.0 L978.8 128.0 L983.4 128.0 L987.9 128.0 L992.4 128.0 L996.9 128.0 L1001.4 128.0 L1005.9 128.0 L1010.4 128.0 L1014.9 128.0 L1019.4 128.0 L1024.0 128.0 L1028.5 128.0 L1033.0 128.0 L1037.5 128.0 L1042.0 128.0 L1046.5 128.0 L1051.0 128.0 L1055.5 128.0 L1060.1 128.0 L1064.6 128.0 L1069.1 128.0 L1073.6 128.0 L1078.1 128.0 L1082.6 128.0 L1087.1 128.0 L1091.6 128.0 L1096.2 128.0 L1100.7 128.0 L1105.2 128.0 L1109.7 128.0 L1114.2 128.0 L1118.7 128.0 L1123.2 128.0 L1127.7 128.0 L1132.2 128.0 L1136.8 128.0 L1141.3 128.0 L1145.8 128.0 L1150.3 128.0 L1154.8 128.0 L1159.3 128.0 L1163.8 128.0 L1168.3 128.0 L1172.9 128.0 L1177.4 128.0 L1181.9 128.0 L1186.4 128.0 L1190.9 128.0 L1195.4 128.0 L1199.9 128.0 L1204.4 128.0 L1209.0 128.0 L1213.5 128.0 L1218.0 128.0 L1222.5 128.0 L1227.0 128.0 L1231.5 128.0 L1236.0 128.0 L1240.5 128.0 L1245.0 128.0 L1249.6 128.0 L1254.1 128.0 L1258.6 128.0 L1263.1 128.0 L1267.6 128.0 L1272.1 128.0 L1276.6 128.0 L1281.1 128.0 L1285.7 128.0 L1290.2 128.0 L1294.7 128.0 L1299.2 128.0 L1303.7 128.0 L1308.2 128.0 L1312.7 128.0 L1317.2 128.0 L1321.8 128.0 L1326.3 128.0 L1330.8 128.0 L1335.3 128.0 L1339.8 128.0 L1344.3 128.0 L1348.8 128.0 L1353.3 128.0 L1357.8 128.0 L1362.4 128.0 L1366.9 128.0 L1371.4 128.0 L1375.9 128.0 L1380.4 128.0 L1384.9 128.0 L1389.4 128.0 L1393.9 128.0 L1398.5 128.0 L1403.0 128.0 L1407.5 128.0 L1412.0 128.0 L1416.5 128.0 L1421.0 128.0 L1425.5 128.0 L1430.0 128.0 L1434.6 128.0 L1439.1 128.0 L1443.6 128.0 L1448.1 128.0 L1452.6 128.0 L1457.1 128.0 L1461.6 128.0 L1466.1 128.0 L1470.6 128.0 L1475.2 128.0 L1479.7 128.0 L1484.2 128.0 L1488.7 128.0 L1493.2 128.0 L1497.7 128.0 L1502.2 128.0 L1506.7 128.0 L1511.3 128.0 L1515.8 128.0 L1520.3 128.0 L1524.8 128.0 L1529.3 128.0 L1533.8 128.0 L1538.3 128.0 L1542.8 128.0 L1547.4 128.0 L1551.9 128.0 L1556.4 128.0 L1560.9 128.0 L1565.4 128.0" fill="none" stroke="#5a0a0c" stroke-width="3.4" stroke-linejoin="round"/>
<g fill="#5a0a0c" stroke="none">
<circle cx="213.2" cy="992.9" r="16.2"/>
<circle cx="215.4" cy="810.8" r="16.2"/>
<circle cx="219.2" cy="585.0" r="16.2"/>
<circle cx="226.4" cy="401.1" r="16.2"/>
<circle cx="239.6" cy="276.4" r="16.2"/>
<circle cx="269.0" cy="192.6" r="16.2"/>
<circle cx="326.4" cy="159.9" r="16.2"/>
<circle cx="441.8" cy="98.9" r="16.2"/>
<circle cx="673.6" cy="108.0" r="16.2"/>
<circle cx="1135.6" cy="153.0" r="16.2"/>
</g>
</g>
<g font-family="Liberation Sans, sans-serif" font-weight="bold" font-size="47" fill="#000">
<text x="177.3" y="1053.0" text-anchor="end">0.0</text>
<text x="177.3" y="870.9" text-anchor="end">0.2</text>
<text x="177.3" y="688.8" text-anchor="end">0.4</text>
<text x="177.3" y="506.8" text-anchor="end">0.6</text>
<text x="177.3" y="324.7" text-anchor="end">0.8</text>
<text x="177.3" y="142.6" text-anchor="end">1.0</text>
<text x="212.3" y="1109.6" text-anchor="middle">0</text>
<text x="437.9" y="1109.6" text-anchor="middle">500</text>
<text x="663.5" y="1109.6" text-anchor="middle">1000</text>
<text x="889.1" y="1109.6" text-anchor="middle">1500</text>
<text x="1114.7" y="1109.6" text-anchor="middle">2000</text>
<text x="1340.3" y="1109.6" text-anchor="middle">2500</text>
<text x="1565.9" y="1109.6" text-anchor="middle">3000</text>
</g>
<text font-family="Liberation Sans, sans-serif" font-size="66.0" x="902.0" y="1199.8" text-anchor="middle" fill="#000">Annealing time (min)</text>
<text font-family="Liberation Sans, sans-serif" font-size="65.85" transform="translate(80.3 545.6) rotate(-90)" text-anchor="middle" fill="#000">RBM intensity</text>
<text font-family="Liberation Sans, sans-serif" font-size="66.1" x="485.5" y="655.4" fill="#000">T=580<tspan font-size="37.5" dy="-22.4">0</tspan><tspan dy="22.4">C</tspan></text>
<g font-family="Liberation Sans, sans-serif" font-weight="bold" font-size="46.6" text-anchor="middle">
<text x="1212.5" y="348.3" fill="#80ff20">(9,2) d=0.800 nm</text>
<text x="1207.4" y="407.0" fill="#cc0e66">(9,3) d=0.853 nm</text>
<text x="1213.1" y="473.2" fill="#5a0a0c">(11,1) d=0.909 nm</text>
<text x="1213.1" y="528.4" fill="#de7a22">(11,2) d=0.955 nm</text>
<text x="1210.3" y="588.8" fill="#6000ff">(10,4) d=0.983 nm</text>
<text x="1208.6" y="654.4" fill="#3c6e76">(9,6) d=1.028 nm</text>
<text x="1216.8" y="719.8" fill="#3a7a12">(13,1) d=1.064 nm</text>
<text x="1217.5" y="782.3" fill="#d8181c">(12,3) d=1.081 nm</text>
<text x="1211.7" y="849.0" fill="#747919">(8,8) d=1.089 nm</text>
</g>
</svg>
</body></html>
